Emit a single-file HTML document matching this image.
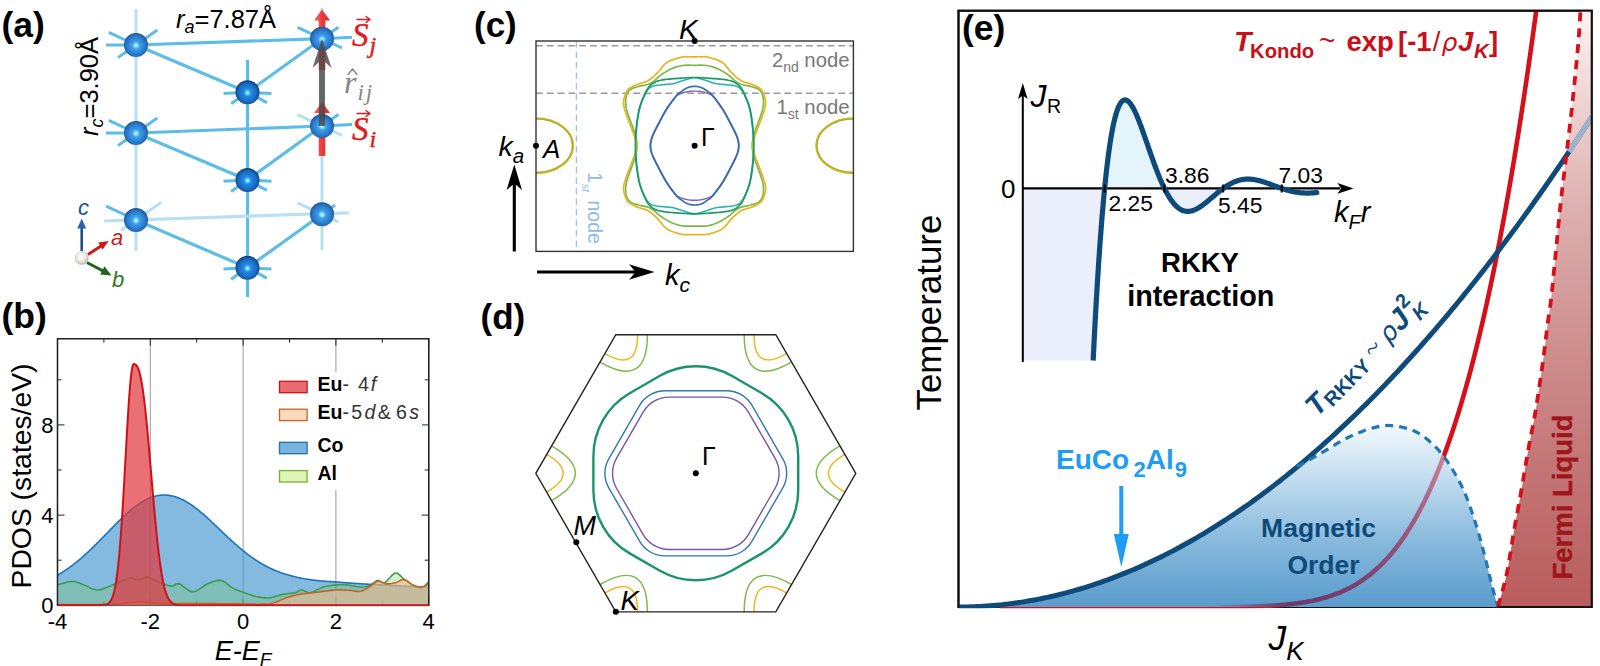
<!DOCTYPE html>
<html><head><meta charset="utf-8"><title>Figure</title>
<style>
html,body{margin:0;padding:0;background:#fff;}
svg{display:block;font-family:"Liberation Sans","DejaVu Sans",sans-serif;}

</style></head><body>
<svg width="1600" height="666" viewBox="0 0 1600 666">
<rect width="1600" height="666" fill="#fff"/>
<defs>
<radialGradient id="atom" cx="50%" cy="52%" r="50%">
 <stop offset="0" stop-color="#d8ffff"/>
 <stop offset="0.12" stop-color="#8fe4fb"/>
 <stop offset="0.32" stop-color="#3f9fe6"/>
 <stop offset="0.7" stop-color="#2b7fd3"/>
 <stop offset="0.92" stop-color="#2468b4"/>
 <stop offset="1" stop-color="#1d4f8c"/>
</radialGradient>
<radialGradient id="atomd" cx="50%" cy="52%" r="50%">
 <stop offset="0" stop-color="#c8fbff"/>
 <stop offset="0.12" stop-color="#6fd6fa"/>
 <stop offset="0.32" stop-color="#2088e0"/>
 <stop offset="0.7" stop-color="#1a6fc8"/>
 <stop offset="0.9" stop-color="#1558a6"/>
 <stop offset="1" stop-color="#0f3c78"/>
</radialGradient>
<radialGradient id="wsph" cx="45%" cy="40%" r="60%">
 <stop offset="0" stop-color="#ffffff"/>
 <stop offset="0.6" stop-color="#e9e7e4"/>
 <stop offset="1" stop-color="#b5b2ad"/>
</radialGradient>
<linearGradient id="redarrow" x1="0" x2="1" y1="0" y2="0">
 <stop offset="0" stop-color="#f26a6a"/>
 <stop offset="0.5" stop-color="#ee3b3b"/>
 <stop offset="1" stop-color="#d92626"/>
</linearGradient>
<linearGradient id="magfill" x1="0" x2="0" y1="426" y2="607" gradientUnits="userSpaceOnUse">
 <stop offset="0" stop-color="#f2f8fc"/>
 <stop offset="0.3" stop-color="#c0dbee"/>
 <stop offset="0.65" stop-color="#86b8dc"/>
 <stop offset="1" stop-color="#5a9ccc"/>
</linearGradient>
<linearGradient id="konin" x1="0" x2="0" y1="607" y2="440" gradientUnits="userSpaceOnUse">
 <stop offset="0" stop-color="#6c3a6c"/>
 <stop offset="0.25" stop-color="#874874"/>
 <stop offset="0.6" stop-color="#a86486"/>
 <stop offset="1" stop-color="#d48a9c"/>
</linearGradient>
<linearGradient id="fadeg" x1="1215" x2="1285" y1="0" y2="0" gradientUnits="userSpaceOnUse">
 <stop offset="0" stop-color="#000"/><stop offset="1" stop-color="#fff"/>
</linearGradient>
<linearGradient id="flfill" x1="0" x2="0" y1="10" y2="607" gradientUnits="userSpaceOnUse">
 <stop offset="0" stop-color="#fcf3f3"/>
 <stop offset="0.16" stop-color="#eed2d2"/>
 <stop offset="0.33" stop-color="#deb0b0"/>
 <stop offset="0.5" stop-color="#d29797"/>
 <stop offset="0.75" stop-color="#c47777"/>
 <stop offset="1" stop-color="#b95c5c"/>
</linearGradient>
</defs>
<g id="panel-a"><line x1="136" y1="9" x2="136" y2="251" stroke="#b9e0f2" stroke-width="3"/>
<line x1="322" y1="8" x2="322" y2="250" stroke="#b9e0f2" stroke-width="3"/>
<line x1="247.5" y1="60" x2="247.5" y2="297" stroke="#5dbde6" stroke-width="3.2"/>
<line x1="136" y1="45" x2="322" y2="38.7" stroke="#5dbde6" stroke-width="3.2"/>
<line x1="136" y1="133" x2="322" y2="126" stroke="#5dbde6" stroke-width="3.2"/>
<line x1="104" y1="221" x2="342" y2="213" stroke="#b9e0f2" stroke-width="3.2"/>
<line x1="136" y1="45" x2="247.5" y2="92.3" stroke="#5dbde6" stroke-width="3.2"/>
<line x1="247.5" y1="92.3" x2="322" y2="38.7" stroke="#5dbde6" stroke-width="3.2"/>
<line x1="136" y1="133" x2="247.5" y2="180" stroke="#5dbde6" stroke-width="3.2"/>
<line x1="247.5" y1="180" x2="322" y2="126" stroke="#5dbde6" stroke-width="3.2"/>
<line x1="136" y1="220" x2="247.5" y2="267.8" stroke="#5dbde6" stroke-width="3.2"/>
<line x1="247.5" y1="267.8" x2="322" y2="214.2" stroke="#5dbde6" stroke-width="3.2"/>
<line x1="136" y1="45" x2="106" y2="45" stroke="#5dbde6" stroke-width="3"/>
<line x1="136" y1="45" x2="108.81" y2="32.32" stroke="#5dbde6" stroke-width="3"/>
<line x1="136" y1="45" x2="157.3" y2="30.09" stroke="#5dbde6" stroke-width="3"/>
<line x1="136" y1="45" x2="117.98" y2="57.62" stroke="#5dbde6" stroke-width="3"/>
<line x1="136" y1="133" x2="106" y2="133" stroke="#5dbde6" stroke-width="3"/>
<line x1="136" y1="133" x2="108.81" y2="120.32" stroke="#5dbde6" stroke-width="3"/>
<line x1="136" y1="133" x2="157.3" y2="118.09" stroke="#5dbde6" stroke-width="3"/>
<line x1="136" y1="133" x2="117.98" y2="145.62" stroke="#5dbde6" stroke-width="3"/>
<line x1="136" y1="220" x2="106.09" y2="206.05" stroke="#5dbde6" stroke-width="3"/>
<line x1="136" y1="220" x2="161.39" y2="202.22" stroke="#b9e0f2" stroke-width="3"/>
<line x1="136" y1="220" x2="121.26" y2="230.32" stroke="#b9e0f2" stroke-width="3"/>
<line x1="247.5" y1="92.3" x2="223.53" y2="93.56" stroke="#5dbde6" stroke-width="3"/>
<line x1="247.5" y1="92.3" x2="271.47" y2="93.56" stroke="#5dbde6" stroke-width="3"/>
<line x1="247.5" y1="92.3" x2="231.12" y2="103.77" stroke="#5dbde6" stroke-width="3"/>
<line x1="247.5" y1="92.3" x2="266.92" y2="102.63" stroke="#5dbde6" stroke-width="3"/>
<line x1="247.5" y1="180" x2="223.53" y2="181.26" stroke="#5dbde6" stroke-width="3"/>
<line x1="247.5" y1="180" x2="271.47" y2="181.26" stroke="#5dbde6" stroke-width="3"/>
<line x1="247.5" y1="180" x2="231.12" y2="191.47" stroke="#5dbde6" stroke-width="3"/>
<line x1="247.5" y1="180" x2="266.92" y2="190.33" stroke="#5dbde6" stroke-width="3"/>
<line x1="247.5" y1="267.8" x2="223.53" y2="269.06" stroke="#5dbde6" stroke-width="3"/>
<line x1="247.5" y1="267.8" x2="271.47" y2="269.06" stroke="#5dbde6" stroke-width="3"/>
<line x1="247.5" y1="267.8" x2="231.12" y2="279.27" stroke="#5dbde6" stroke-width="3"/>
<line x1="247.5" y1="267.8" x2="266.92" y2="278.13" stroke="#5dbde6" stroke-width="3"/>
<line x1="322" y1="38.7" x2="351.96" y2="37.13" stroke="#5dbde6" stroke-width="3"/>
<line x1="322" y1="38.7" x2="297.53" y2="27.29" stroke="#5dbde6" stroke-width="3"/>
<line x1="322" y1="38.7" x2="341.94" y2="48" stroke="#5dbde6" stroke-width="3"/>
<line x1="322" y1="38.7" x2="338.38" y2="27.23" stroke="#5dbde6" stroke-width="3"/>
<line x1="322" y1="126" x2="351.96" y2="124.43" stroke="#5dbde6" stroke-width="3"/>
<line x1="322" y1="126" x2="297.53" y2="114.59" stroke="#b9e0f2" stroke-width="3"/>
<line x1="322" y1="126" x2="341.94" y2="135.3" stroke="#b9e0f2" stroke-width="3"/>
<line x1="322" y1="126" x2="338.38" y2="114.53" stroke="#5dbde6" stroke-width="3"/>
<line x1="322" y1="214.2" x2="348.96" y2="212.79" stroke="#b9e0f2" stroke-width="3"/>
<line x1="322" y1="214.2" x2="297.53" y2="202.79" stroke="#b9e0f2" stroke-width="3"/>
<line x1="322" y1="214.2" x2="338.31" y2="221.81" stroke="#b9e0f2" stroke-width="3"/>
<line x1="322" y1="214.2" x2="335.11" y2="205.02" stroke="#5dbde6" stroke-width="3"/>
<path d="M318.7,156 L318.7,113 L314,113 L322,102 L330,113 L325.3,113 L325.3,156Z" fill="url(#redarrow)"/>
<path d="M318.7,70 L318.7,20.5 L314,20.5 L322,9.5 L330,20.5 L325.3,20.5 L325.3,70Z" fill="url(#redarrow)"/>
<circle cx="136" cy="45" r="12" fill="url(#atom)"/>
<circle cx="136" cy="133" r="12" fill="url(#atom)"/>
<circle cx="136" cy="220" r="12" fill="url(#atom)"/>
<circle cx="247.5" cy="92.3" r="12" fill="url(#atomd)"/>
<circle cx="247.5" cy="180" r="12" fill="url(#atomd)"/>
<circle cx="247.5" cy="267.8" r="12" fill="url(#atomd)"/>
<circle cx="322" cy="38.7" r="12" fill="url(#atom)"/>
<circle cx="322" cy="126" r="12" fill="url(#atom)"/>
<circle cx="322" cy="214.2" r="12" fill="url(#atom)"/>
<path d="M319,126 L319,62 L312.5,68 L322,38.5 L331.5,68 L325,62 L325,126Z" fill="#4a4a4a" fill-opacity="0.82"/>
<line x1="81.7" y1="251" x2="81.7" y2="228" stroke="#1f4e8c" stroke-width="2.6"/>
<path d="M77.2,228.5 L81.7,218.5 L86.2,228.5Z" fill="#2b62a8"/>
<line x1="88" y1="254.5" x2="101" y2="246" stroke="#d41616" stroke-width="2.8"/>
<path d="M98.2,242.6 L108.6,241 L102.6,249.6Z" fill="#d41616"/>
<line x1="87" y1="262.5" x2="103" y2="271" stroke="#22631c" stroke-width="3"/>
<path d="M104.5,266.3 L111.5,275.4 L100.2,274.6Z" fill="#22631c"/>
<circle cx="81.7" cy="258" r="6.6" fill="url(#wsph)" stroke="#c9c6c0" stroke-width="0.6"/>
<text x="1.5" y="37.3" font-size="35.5" font-weight="bold">(a)</text>
<text x="176" y="28" font-size="25.5"><tspan font-style="italic">r</tspan><tspan font-style="italic" font-size="18" dy="5">a</tspan><tspan dy="-5">=7.87Å</tspan></text>
<text transform="translate(97.5,136) rotate(-90)" font-size="25.5"><tspan font-style="italic">r</tspan><tspan font-style="italic" font-size="18" dy="5">c</tspan><tspan dy="-5">=3.90Å</tspan></text>
<text x="78" y="214.5" font-size="22" font-style="italic" fill="#1f4e8c">c</text>
<text x="111" y="245" font-size="22" font-style="italic" fill="#d41616">a</text>
<text x="112" y="287" font-size="22" font-style="italic" fill="#2f7a1f">b</text>
<text x="352" y="46" font-family="'Liberation Serif','DejaVu Serif',serif" font-style="italic" font-size="33" fill="#e01b1b" stroke="#e01b1b" stroke-width="0.5">S<tspan font-size="24" dy="7" dx="1">j</tspan></text><path d="M357,19.5 h13 m-4,-3 l4,3 l-4,3" fill="none" stroke="#e01b1b" stroke-width="1.4" stroke-linecap="round" stroke-linejoin="round"/>
<text x="352" y="140" font-family="'Liberation Serif','DejaVu Serif',serif" font-style="italic" font-size="33" fill="#e01b1b" stroke="#e01b1b" stroke-width="0.5">S<tspan font-size="24" dy="7" dx="1">i</tspan></text><path d="M357,113.5 h13 m-4,-3 l4,3 l-4,3" fill="none" stroke="#e01b1b" stroke-width="1.4" stroke-linecap="round" stroke-linejoin="round"/>
<text x="344" y="93" font-family="'Liberation Serif','DejaVu Serif',serif" font-style="italic" font-size="32" fill="#858585">r<tspan font-size="23" dy="7" dx="1" letter-spacing="2">ij</tspan></text>
<path d="M348,74.5 l4.5,-5.5 l4.5,5.5" fill="none" stroke="#858585" stroke-width="1.4" stroke-linecap="round" stroke-linejoin="round"/></g>
<g id="panel-b"><line x1="150.3" y1="338.7" x2="150.3" y2="605.3" stroke="#9a9a9a" stroke-width="1"/>
<line x1="243.1" y1="338.7" x2="243.1" y2="605.3" stroke="#9a9a9a" stroke-width="1"/>
<line x1="335.9" y1="338.7" x2="335.9" y2="605.3" stroke="#9a9a9a" stroke-width="1"/>
<rect x="57.5" y="338.7" width="371.2" height="266.59999999999997" fill="none" stroke="#222" stroke-width="1.3"/>
<path d="M57.5,605.3 h7 M428.7,605.3 h-7 M57.5,560.2 h4 M428.7,560.2 h-4 M57.5,515.1 h7 M428.7,515.1 h-7 M57.5,470 h4 M428.7,470 h-4 M57.5,424.9 h7 M428.7,424.9 h-7 M57.5,379.8 h4 M428.7,379.8 h-4 M57.5,605.3 v-7 M57.5,338.7 v7 M103.9,605.3 v-4 M103.9,338.7 v4 M150.3,605.3 v-7 M150.3,338.7 v7 M196.7,605.3 v-4 M196.7,338.7 v4 M243.1,605.3 v-7 M243.1,338.7 v7 M289.5,605.3 v-4 M289.5,338.7 v4 M335.9,605.3 v-7 M335.9,338.7 v7 M382.3,605.3 v-4 M382.3,338.7 v4 M428.7,605.3 v-7 M428.7,338.7 v7" stroke="#222" stroke-width="1" fill="none"/>
<clipPath id="bclip"><rect x="57.5" y="338.7" width="371.2" height="267.79999999999995"/></clipPath>
<g clip-path="url(#bclip)">
<path d="M57.5,575.26 L58.43,574.72 L59.36,574.17 L60.28,573.61 L61.21,573.04 L62.14,572.46 L63.07,571.86 L64,571.26 L64.92,570.64 L65.85,570.02 L66.78,569.38 L67.71,568.73 L68.64,568.07 L69.56,567.4 L70.49,566.72 L71.42,566.03 L72.35,565.33 L73.28,564.61 L74.2,563.89 L75.13,563.16 L76.06,562.41 L76.99,561.66 L77.92,560.9 L78.84,560.12 L79.77,559.34 L80.7,558.55 L81.63,557.74 L82.56,556.93 L83.48,556.11 L84.41,555.28 L85.34,554.44 L86.27,553.6 L87.2,552.74 L88.12,551.88 L89.05,551.01 L89.98,550.13 L90.91,549.25 L91.84,548.36 L92.76,547.46 L93.69,546.56 L94.62,545.65 L95.55,544.74 L96.48,543.82 L97.4,542.89 L98.33,541.97 L99.26,541.03 L100.19,540.1 L101.12,539.16 L102.04,538.22 L102.97,537.28 L103.9,536.33 L104.83,535.37 L105.76,534.41 L106.68,533.45 L107.61,532.5 L108.54,531.54 L109.47,530.58 L110.4,529.62 L111.32,528.67 L112.25,527.72 L113.18,526.77 L114.11,525.83 L115.04,524.89 L115.96,523.95 L116.89,523.02 L117.82,522.1 L118.75,521.18 L119.68,520.27 L120.6,519.37 L121.53,518.48 L122.46,517.59 L123.39,516.72 L124.32,515.85 L125.24,515 L126.17,514.15 L127.1,513.32 L128.03,512.5 L128.96,511.69 L129.88,510.89 L130.81,510.11 L131.74,509.34 L132.67,508.59 L133.6,507.85 L134.52,507.13 L135.45,506.42 L136.38,505.73 L137.31,505.06 L138.24,504.41 L139.16,503.77 L140.09,503.15 L141.02,502.55 L141.95,501.97 L142.88,501.41 L143.8,500.87 L144.73,500.35 L145.66,499.85 L146.59,499.37 L147.52,498.91 L148.44,498.48 L149.37,498.07 L150.3,497.67 L151.23,497.33 L152.16,497.02 L153.08,496.72 L154.01,496.45 L154.94,496.2 L155.87,495.97 L156.8,495.77 L157.72,495.6 L158.65,495.44 L159.58,495.31 L160.51,495.21 L161.44,495.13 L162.36,495.07 L163.29,495.04 L164.22,495.04 L165.15,495.05 L166.08,495.09 L167,495.16 L167.93,495.25 L168.86,495.36 L169.79,495.5 L170.72,495.66 L171.64,495.85 L172.57,496.06 L173.5,496.29 L174.43,496.54 L175.36,496.82 L176.28,497.12 L177.21,497.45 L178.14,497.79 L179.07,498.16 L180,498.55 L180.92,498.96 L181.85,499.39 L182.78,499.84 L183.71,500.31 L184.64,500.8 L185.56,501.31 L186.49,501.83 L187.42,502.38 L188.35,502.95 L189.28,503.53 L190.2,504.13 L191.13,504.74 L192.06,505.38 L192.99,506.02 L193.92,506.69 L194.84,507.36 L195.77,508.06 L196.7,508.76 L197.63,509.5 L198.56,510.25 L199.48,511.01 L200.41,511.78 L201.34,512.56 L202.27,513.36 L203.2,514.16 L204.12,514.97 L205.05,515.8 L205.98,516.62 L206.91,517.46 L207.84,518.31 L208.76,519.16 L209.69,520.01 L210.62,520.88 L211.55,521.74 L212.48,522.62 L213.4,523.49 L214.33,524.37 L215.26,525.25 L216.19,526.14 L217.12,527.02 L218.04,527.91 L218.97,528.8 L219.9,529.68 L220.83,530.57 L221.76,531.46 L222.68,532.34 L223.61,533.23 L224.54,534.11 L225.47,534.99 L226.4,535.87 L227.32,536.74 L228.25,537.61 L229.18,538.47 L230.11,539.33 L231.04,540.19 L231.96,541.04 L232.89,541.88 L233.82,542.72 L234.75,543.55 L235.68,544.38 L236.6,545.2 L237.53,546.01 L238.46,546.81 L239.39,547.61 L240.32,548.4 L241.24,549.18 L242.17,549.95 L243.1,550.71 L244.03,551.45 L244.96,552.19 L245.88,552.91 L246.81,553.63 L247.74,554.33 L248.67,555.03 L249.6,555.72 L250.52,556.39 L251.45,557.06 L252.38,557.71 L253.31,558.36 L254.24,558.99 L255.16,559.62 L256.09,560.23 L257.02,560.83 L257.95,561.42 L258.88,562 L259.8,562.57 L260.73,563.13 L261.66,563.68 L262.59,564.22 L263.52,564.74 L264.44,565.26 L265.37,565.76 L266.3,566.26 L267.23,566.74 L268.16,567.21 L269.08,567.68 L270.01,568.13 L270.94,568.57 L271.87,569 L272.8,569.42 L273.72,569.83 L274.65,570.23 L275.58,570.62 L276.51,571 L277.44,571.37 L278.36,571.73 L279.29,572.08 L280.22,572.42 L281.15,572.75 L282.08,573.07 L283,573.39 L283.93,573.69 L284.86,573.99 L285.79,574.27 L286.72,574.55 L287.64,574.82 L288.57,575.08 L289.5,575.34 L290.43,575.6 L291.36,575.86 L292.28,576.12 L293.21,576.36 L294.14,576.6 L295.07,576.83 L296,577.05 L296.92,577.27 L297.85,577.48 L298.78,577.68 L299.71,577.88 L300.64,578.07 L301.56,578.25 L302.49,578.43 L303.42,578.6 L304.35,578.77 L305.28,578.93 L306.2,579.08 L307.13,579.23 L308.06,579.38 L308.99,579.52 L309.92,579.65 L310.84,579.78 L311.77,579.91 L312.7,580.03 L313.63,580.14 L314.56,580.25 L315.48,580.36 L316.41,580.46 L317.34,580.56 L318.27,580.66 L319.2,580.75 L320.12,580.84 L321.05,580.93 L321.98,581.01 L322.91,581.09 L323.84,581.16 L324.76,581.24 L325.69,581.3 L326.62,581.37 L327.55,581.44 L328.48,581.5 L329.4,581.56 L330.33,581.61 L331.26,581.67 L332.19,581.72 L333.12,581.77 L334.04,581.81 L334.97,581.86 L335.9,581.9 L336.83,581.99 L337.76,582.07 L338.68,582.16 L339.61,582.24 L340.54,582.32 L341.47,582.4 L342.4,582.47 L343.32,582.55 L344.25,582.62 L345.18,582.7 L346.11,582.77 L347.04,582.84 L347.96,582.91 L348.89,582.97 L349.82,583.04 L350.75,583.1 L351.68,583.17 L352.6,583.23 L353.53,583.3 L354.46,583.36 L355.39,583.42 L356.32,583.48 L357.24,583.54 L358.17,583.6 L359.1,583.66 L360.03,583.71 L360.96,583.77 L361.88,583.83 L362.81,583.88 L363.74,583.94 L364.67,583.99 L365.6,584.04 L366.52,584.1 L367.45,584.15 L368.38,584.2 L369.31,584.26 L370.24,584.31 L371.16,584.36 L372.09,584.41 L373.02,584.46 L373.95,584.51 L374.88,584.56 L375.8,584.61 L376.73,584.66 L377.66,584.71 L378.59,584.76 L379.52,584.81 L380.44,584.86 L381.37,584.91 L382.3,584.96 L383.23,585 L384.16,585.05 L385.08,585.1 L386.01,585.15 L386.94,585.19 L387.87,585.24 L388.8,585.29 L389.72,585.34 L390.65,585.38 L391.58,585.43 L392.51,585.48 L393.44,585.52 L394.36,585.57 L395.29,585.62 L396.22,585.66 L397.15,585.71 L398.08,585.76 L399,585.8 L399.93,585.85 L400.86,585.89 L401.79,585.94 L402.72,585.99 L403.64,586.03 L404.57,586.08 L405.5,586.12 L406.43,586.17 L407.36,586.21 L408.28,586.26 L409.21,586.31 L410.14,586.35 L411.07,586.4 L412,586.44 L412.92,586.49 L413.85,586.53 L414.78,586.58 L415.71,586.62 L416.64,586.67 L417.56,586.72 L418.49,586.76 L419.42,586.81 L420.35,586.85 L421.28,586.9 L422.2,586.94 L423.13,586.99 L424.06,587.03 L424.99,587.08 L425.92,587.12 L426.84,587.17 L427.77,587.21 L428.7,587.26 L428.7,605.3 L57.5,605.3Z" fill="#4a9ad0" fill-opacity="0.68"/><path d="M57.5,575.26 L58.43,574.72 L59.36,574.17 L60.28,573.61 L61.21,573.04 L62.14,572.46 L63.07,571.86 L64,571.26 L64.92,570.64 L65.85,570.02 L66.78,569.38 L67.71,568.73 L68.64,568.07 L69.56,567.4 L70.49,566.72 L71.42,566.03 L72.35,565.33 L73.28,564.61 L74.2,563.89 L75.13,563.16 L76.06,562.41 L76.99,561.66 L77.92,560.9 L78.84,560.12 L79.77,559.34 L80.7,558.55 L81.63,557.74 L82.56,556.93 L83.48,556.11 L84.41,555.28 L85.34,554.44 L86.27,553.6 L87.2,552.74 L88.12,551.88 L89.05,551.01 L89.98,550.13 L90.91,549.25 L91.84,548.36 L92.76,547.46 L93.69,546.56 L94.62,545.65 L95.55,544.74 L96.48,543.82 L97.4,542.89 L98.33,541.97 L99.26,541.03 L100.19,540.1 L101.12,539.16 L102.04,538.22 L102.97,537.28 L103.9,536.33 L104.83,535.37 L105.76,534.41 L106.68,533.45 L107.61,532.5 L108.54,531.54 L109.47,530.58 L110.4,529.62 L111.32,528.67 L112.25,527.72 L113.18,526.77 L114.11,525.83 L115.04,524.89 L115.96,523.95 L116.89,523.02 L117.82,522.1 L118.75,521.18 L119.68,520.27 L120.6,519.37 L121.53,518.48 L122.46,517.59 L123.39,516.72 L124.32,515.85 L125.24,515 L126.17,514.15 L127.1,513.32 L128.03,512.5 L128.96,511.69 L129.88,510.89 L130.81,510.11 L131.74,509.34 L132.67,508.59 L133.6,507.85 L134.52,507.13 L135.45,506.42 L136.38,505.73 L137.31,505.06 L138.24,504.41 L139.16,503.77 L140.09,503.15 L141.02,502.55 L141.95,501.97 L142.88,501.41 L143.8,500.87 L144.73,500.35 L145.66,499.85 L146.59,499.37 L147.52,498.91 L148.44,498.48 L149.37,498.07 L150.3,497.67 L151.23,497.33 L152.16,497.02 L153.08,496.72 L154.01,496.45 L154.94,496.2 L155.87,495.97 L156.8,495.77 L157.72,495.6 L158.65,495.44 L159.58,495.31 L160.51,495.21 L161.44,495.13 L162.36,495.07 L163.29,495.04 L164.22,495.04 L165.15,495.05 L166.08,495.09 L167,495.16 L167.93,495.25 L168.86,495.36 L169.79,495.5 L170.72,495.66 L171.64,495.85 L172.57,496.06 L173.5,496.29 L174.43,496.54 L175.36,496.82 L176.28,497.12 L177.21,497.45 L178.14,497.79 L179.07,498.16 L180,498.55 L180.92,498.96 L181.85,499.39 L182.78,499.84 L183.71,500.31 L184.64,500.8 L185.56,501.31 L186.49,501.83 L187.42,502.38 L188.35,502.95 L189.28,503.53 L190.2,504.13 L191.13,504.74 L192.06,505.38 L192.99,506.02 L193.92,506.69 L194.84,507.36 L195.77,508.06 L196.7,508.76 L197.63,509.5 L198.56,510.25 L199.48,511.01 L200.41,511.78 L201.34,512.56 L202.27,513.36 L203.2,514.16 L204.12,514.97 L205.05,515.8 L205.98,516.62 L206.91,517.46 L207.84,518.31 L208.76,519.16 L209.69,520.01 L210.62,520.88 L211.55,521.74 L212.48,522.62 L213.4,523.49 L214.33,524.37 L215.26,525.25 L216.19,526.14 L217.12,527.02 L218.04,527.91 L218.97,528.8 L219.9,529.68 L220.83,530.57 L221.76,531.46 L222.68,532.34 L223.61,533.23 L224.54,534.11 L225.47,534.99 L226.4,535.87 L227.32,536.74 L228.25,537.61 L229.18,538.47 L230.11,539.33 L231.04,540.19 L231.96,541.04 L232.89,541.88 L233.82,542.72 L234.75,543.55 L235.68,544.38 L236.6,545.2 L237.53,546.01 L238.46,546.81 L239.39,547.61 L240.32,548.4 L241.24,549.18 L242.17,549.95 L243.1,550.71 L244.03,551.45 L244.96,552.19 L245.88,552.91 L246.81,553.63 L247.74,554.33 L248.67,555.03 L249.6,555.72 L250.52,556.39 L251.45,557.06 L252.38,557.71 L253.31,558.36 L254.24,558.99 L255.16,559.62 L256.09,560.23 L257.02,560.83 L257.95,561.42 L258.88,562 L259.8,562.57 L260.73,563.13 L261.66,563.68 L262.59,564.22 L263.52,564.74 L264.44,565.26 L265.37,565.76 L266.3,566.26 L267.23,566.74 L268.16,567.21 L269.08,567.68 L270.01,568.13 L270.94,568.57 L271.87,569 L272.8,569.42 L273.72,569.83 L274.65,570.23 L275.58,570.62 L276.51,571 L277.44,571.37 L278.36,571.73 L279.29,572.08 L280.22,572.42 L281.15,572.75 L282.08,573.07 L283,573.39 L283.93,573.69 L284.86,573.99 L285.79,574.27 L286.72,574.55 L287.64,574.82 L288.57,575.08 L289.5,575.34 L290.43,575.6 L291.36,575.86 L292.28,576.12 L293.21,576.36 L294.14,576.6 L295.07,576.83 L296,577.05 L296.92,577.27 L297.85,577.48 L298.78,577.68 L299.71,577.88 L300.64,578.07 L301.56,578.25 L302.49,578.43 L303.42,578.6 L304.35,578.77 L305.28,578.93 L306.2,579.08 L307.13,579.23 L308.06,579.38 L308.99,579.52 L309.92,579.65 L310.84,579.78 L311.77,579.91 L312.7,580.03 L313.63,580.14 L314.56,580.25 L315.48,580.36 L316.41,580.46 L317.34,580.56 L318.27,580.66 L319.2,580.75 L320.12,580.84 L321.05,580.93 L321.98,581.01 L322.91,581.09 L323.84,581.16 L324.76,581.24 L325.69,581.3 L326.62,581.37 L327.55,581.44 L328.48,581.5 L329.4,581.56 L330.33,581.61 L331.26,581.67 L332.19,581.72 L333.12,581.77 L334.04,581.81 L334.97,581.86 L335.9,581.9 L336.83,581.99 L337.76,582.07 L338.68,582.16 L339.61,582.24 L340.54,582.32 L341.47,582.4 L342.4,582.47 L343.32,582.55 L344.25,582.62 L345.18,582.7 L346.11,582.77 L347.04,582.84 L347.96,582.91 L348.89,582.97 L349.82,583.04 L350.75,583.1 L351.68,583.17 L352.6,583.23 L353.53,583.3 L354.46,583.36 L355.39,583.42 L356.32,583.48 L357.24,583.54 L358.17,583.6 L359.1,583.66 L360.03,583.71 L360.96,583.77 L361.88,583.83 L362.81,583.88 L363.74,583.94 L364.67,583.99 L365.6,584.04 L366.52,584.1 L367.45,584.15 L368.38,584.2 L369.31,584.26 L370.24,584.31 L371.16,584.36 L372.09,584.41 L373.02,584.46 L373.95,584.51 L374.88,584.56 L375.8,584.61 L376.73,584.66 L377.66,584.71 L378.59,584.76 L379.52,584.81 L380.44,584.86 L381.37,584.91 L382.3,584.96 L383.23,585 L384.16,585.05 L385.08,585.1 L386.01,585.15 L386.94,585.19 L387.87,585.24 L388.8,585.29 L389.72,585.34 L390.65,585.38 L391.58,585.43 L392.51,585.48 L393.44,585.52 L394.36,585.57 L395.29,585.62 L396.22,585.66 L397.15,585.71 L398.08,585.76 L399,585.8 L399.93,585.85 L400.86,585.89 L401.79,585.94 L402.72,585.99 L403.64,586.03 L404.57,586.08 L405.5,586.12 L406.43,586.17 L407.36,586.21 L408.28,586.26 L409.21,586.31 L410.14,586.35 L411.07,586.4 L412,586.44 L412.92,586.49 L413.85,586.53 L414.78,586.58 L415.71,586.62 L416.64,586.67 L417.56,586.72 L418.49,586.76 L419.42,586.81 L420.35,586.85 L421.28,586.9 L422.2,586.94 L423.13,586.99 L424.06,587.03 L424.99,587.08 L425.92,587.12 L426.84,587.17 L427.77,587.21 L428.7,587.26" fill="none" stroke="#1e74b8" stroke-width="1.6" stroke-linejoin="round"/>
<path d="M57.5,584.78 L58.71,584.47 L60.35,584.01 L62.3,583.45 L64.46,582.86 L66.7,582.3 L68.92,581.83 L70.99,581.51 L72.81,581.4 L74.39,581.5 L75.85,581.78 L77.21,582.18 L78.53,582.68 L79.82,583.25 L81.13,583.84 L82.5,584.44 L83.95,585 L85.48,585.62 L87.07,586.36 L88.68,587.15 L90.33,587.95 L91.99,588.69 L93.65,589.31 L95.3,589.76 L96.94,589.97 L98.52,589.94 L100.04,589.72 L101.53,589.35 L103.03,588.85 L104.58,588.25 L106.23,587.58 L108,586.87 L109.93,586.13 L112.13,585.27 L114.6,584.22 L117.23,583.04 L119.94,581.83 L122.61,580.67 L125.15,579.63 L127.45,578.79 L129.42,578.24 L131.03,578.03 L132.37,578.11 L133.51,578.4 L134.49,578.82 L135.4,579.27 L136.28,579.68 L137.21,579.97 L138.24,580.04 L139.32,579.87 L140.39,579.52 L141.44,579.04 L142.5,578.52 L143.58,578.02 L144.68,577.61 L145.84,577.36 L147.05,577.34 L148.32,577.56 L149.63,577.96 L150.98,578.51 L152.36,579.16 L153.77,579.86 L155.22,580.57 L156.69,581.25 L158.19,581.85 L159.76,582.44 L161.43,583.09 L163.15,583.76 L164.89,584.41 L166.6,585.01 L168.25,585.53 L169.79,585.91 L171.18,586.13 L172.37,586.09 L173.37,585.79 L174.25,585.32 L175.07,584.78 L175.89,584.27 L176.79,583.88 L177.83,583.72 L179.07,583.88 L180.51,584.49 L182.09,585.52 L183.79,586.81 L185.56,588.2 L187.4,589.55 L189.27,590.7 L191.14,591.49 L192.99,591.77 L194.85,591.47 L196.77,590.7 L198.73,589.59 L200.7,588.27 L202.67,586.87 L204.6,585.51 L206.49,584.32 L208.3,583.43 L210.05,582.73 L211.75,582.07 L213.42,581.47 L215.06,580.97 L216.66,580.6 L218.23,580.37 L219.77,580.33 L221.29,580.5 L222.78,580.95 L224.22,581.7 L225.62,582.66 L227,583.76 L228.37,584.92 L229.72,586.05 L231.07,587.09 L232.43,587.94 L233.77,588.62 L235.07,589.23 L236.36,589.77 L237.65,590.28 L238.95,590.75 L240.28,591.22 L241.66,591.71 L243.1,592.22 L244.61,592.78 L246.18,593.36 L247.8,593.96 L249.45,594.55 L251.12,595.11 L252.79,595.64 L254.45,596.11 L256.09,596.51 L257.72,596.85 L259.34,597.16 L260.96,597.44 L262.59,597.66 L264.21,597.83 L265.84,597.92 L267.46,597.94 L269.08,597.86 L270.71,597.65 L272.33,597.31 L273.96,596.87 L275.58,596.36 L277.2,595.84 L278.83,595.32 L280.45,594.86 L282.08,594.48 L283.74,594.18 L285.48,593.94 L287.23,593.72 L288.98,593.53 L290.67,593.35 L292.28,593.15 L293.75,592.93 L295.07,592.67 L296.17,592.34 L297.09,591.93 L297.88,591.49 L298.58,591.04 L299.24,590.62 L299.93,590.28 L300.69,590.05 L301.56,589.97 L302.53,590.1 L303.51,590.46 L304.52,590.95 L305.57,591.5 L306.67,592.03 L307.83,592.46 L309.06,592.7 L310.38,592.67 L311.81,592.34 L313.35,591.76 L314.97,591.01 L316.64,590.15 L318.35,589.25 L320.06,588.39 L321.74,587.62 L323.37,587.03 L324.97,586.59 L326.56,586.23 L328.14,585.92 L329.72,585.67 L331.29,585.46 L332.84,585.29 L334.38,585.14 L335.9,585 L337.38,584.89 L338.83,584.81 L340.26,584.77 L341.67,584.75 L343.09,584.77 L344.52,584.81 L345.99,584.89 L347.5,585 L349.09,585.18 L350.75,585.45 L352.45,585.77 L354.17,586.1 L355.86,586.43 L357.5,586.72 L359.06,586.93 L360.49,587.03 L361.8,587.05 L363,587.02 L364.12,586.94 L365.19,586.81 L366.22,586.62 L367.23,586.37 L368.26,586.06 L369.31,585.68 L370.38,585.17 L371.46,584.48 L372.54,583.69 L373.6,582.86 L374.65,582.06 L375.68,581.36 L376.69,580.81 L377.66,580.5 L378.57,580.5 L379.41,580.82 L380.21,581.32 L381,581.9 L381.8,582.45 L382.65,582.85 L383.58,582.99 L384.62,582.75 L385.79,582 L387.07,580.8 L388.43,579.3 L389.84,577.66 L391.26,576.06 L392.67,574.65 L394.02,573.59 L395.29,573.05 L396.48,573.06 L397.63,573.47 L398.73,574.19 L399.82,575.13 L400.88,576.18 L401.95,577.27 L403.02,578.28 L404.11,579.14 L405.21,579.91 L406.32,580.69 L407.43,581.49 L408.55,582.27 L409.65,583.03 L410.75,583.75 L411.84,584.41 L412.92,585 L414,585.57 L415.07,586.16 L416.13,586.72 L417.19,587.22 L418.23,587.63 L419.26,587.91 L420.28,588.02 L421.28,587.94 L422.3,587.57 L423.37,586.91 L424.45,586.05 L425.51,585.08 L426.5,584.08 L427.39,583.15 L428.13,582.38 L428.7,581.85 L428.7,605.3 L57.5,605.3Z" fill="#78c864" fill-opacity="0.3"/><path d="M57.5,584.78 L58.71,584.47 L60.35,584.01 L62.3,583.45 L64.46,582.86 L66.7,582.3 L68.92,581.83 L70.99,581.51 L72.81,581.4 L74.39,581.5 L75.85,581.78 L77.21,582.18 L78.53,582.68 L79.82,583.25 L81.13,583.84 L82.5,584.44 L83.95,585 L85.48,585.62 L87.07,586.36 L88.68,587.15 L90.33,587.95 L91.99,588.69 L93.65,589.31 L95.3,589.76 L96.94,589.97 L98.52,589.94 L100.04,589.72 L101.53,589.35 L103.03,588.85 L104.58,588.25 L106.23,587.58 L108,586.87 L109.93,586.13 L112.13,585.27 L114.6,584.22 L117.23,583.04 L119.94,581.83 L122.61,580.67 L125.15,579.63 L127.45,578.79 L129.42,578.24 L131.03,578.03 L132.37,578.11 L133.51,578.4 L134.49,578.82 L135.4,579.27 L136.28,579.68 L137.21,579.97 L138.24,580.04 L139.32,579.87 L140.39,579.52 L141.44,579.04 L142.5,578.52 L143.58,578.02 L144.68,577.61 L145.84,577.36 L147.05,577.34 L148.32,577.56 L149.63,577.96 L150.98,578.51 L152.36,579.16 L153.77,579.86 L155.22,580.57 L156.69,581.25 L158.19,581.85 L159.76,582.44 L161.43,583.09 L163.15,583.76 L164.89,584.41 L166.6,585.01 L168.25,585.53 L169.79,585.91 L171.18,586.13 L172.37,586.09 L173.37,585.79 L174.25,585.32 L175.07,584.78 L175.89,584.27 L176.79,583.88 L177.83,583.72 L179.07,583.88 L180.51,584.49 L182.09,585.52 L183.79,586.81 L185.56,588.2 L187.4,589.55 L189.27,590.7 L191.14,591.49 L192.99,591.77 L194.85,591.47 L196.77,590.7 L198.73,589.59 L200.7,588.27 L202.67,586.87 L204.6,585.51 L206.49,584.32 L208.3,583.43 L210.05,582.73 L211.75,582.07 L213.42,581.47 L215.06,580.97 L216.66,580.6 L218.23,580.37 L219.77,580.33 L221.29,580.5 L222.78,580.95 L224.22,581.7 L225.62,582.66 L227,583.76 L228.37,584.92 L229.72,586.05 L231.07,587.09 L232.43,587.94 L233.77,588.62 L235.07,589.23 L236.36,589.77 L237.65,590.28 L238.95,590.75 L240.28,591.22 L241.66,591.71 L243.1,592.22 L244.61,592.78 L246.18,593.36 L247.8,593.96 L249.45,594.55 L251.12,595.11 L252.79,595.64 L254.45,596.11 L256.09,596.51 L257.72,596.85 L259.34,597.16 L260.96,597.44 L262.59,597.66 L264.21,597.83 L265.84,597.92 L267.46,597.94 L269.08,597.86 L270.71,597.65 L272.33,597.31 L273.96,596.87 L275.58,596.36 L277.2,595.84 L278.83,595.32 L280.45,594.86 L282.08,594.48 L283.74,594.18 L285.48,593.94 L287.23,593.72 L288.98,593.53 L290.67,593.35 L292.28,593.15 L293.75,592.93 L295.07,592.67 L296.17,592.34 L297.09,591.93 L297.88,591.49 L298.58,591.04 L299.24,590.62 L299.93,590.28 L300.69,590.05 L301.56,589.97 L302.53,590.1 L303.51,590.46 L304.52,590.95 L305.57,591.5 L306.67,592.03 L307.83,592.46 L309.06,592.7 L310.38,592.67 L311.81,592.34 L313.35,591.76 L314.97,591.01 L316.64,590.15 L318.35,589.25 L320.06,588.39 L321.74,587.62 L323.37,587.03 L324.97,586.59 L326.56,586.23 L328.14,585.92 L329.72,585.67 L331.29,585.46 L332.84,585.29 L334.38,585.14 L335.9,585 L337.38,584.89 L338.83,584.81 L340.26,584.77 L341.67,584.75 L343.09,584.77 L344.52,584.81 L345.99,584.89 L347.5,585 L349.09,585.18 L350.75,585.45 L352.45,585.77 L354.17,586.1 L355.86,586.43 L357.5,586.72 L359.06,586.93 L360.49,587.03 L361.8,587.05 L363,587.02 L364.12,586.94 L365.19,586.81 L366.22,586.62 L367.23,586.37 L368.26,586.06 L369.31,585.68 L370.38,585.17 L371.46,584.48 L372.54,583.69 L373.6,582.86 L374.65,582.06 L375.68,581.36 L376.69,580.81 L377.66,580.5 L378.57,580.5 L379.41,580.82 L380.21,581.32 L381,581.9 L381.8,582.45 L382.65,582.85 L383.58,582.99 L384.62,582.75 L385.79,582 L387.07,580.8 L388.43,579.3 L389.84,577.66 L391.26,576.06 L392.67,574.65 L394.02,573.59 L395.29,573.05 L396.48,573.06 L397.63,573.47 L398.73,574.19 L399.82,575.13 L400.88,576.18 L401.95,577.27 L403.02,578.28 L404.11,579.14 L405.21,579.91 L406.32,580.69 L407.43,581.49 L408.55,582.27 L409.65,583.03 L410.75,583.75 L411.84,584.41 L412.92,585 L414,585.57 L415.07,586.16 L416.13,586.72 L417.19,587.22 L418.23,587.63 L419.26,587.91 L420.28,588.02 L421.28,587.94 L422.3,587.57 L423.37,586.91 L424.45,586.05 L425.51,585.08 L426.5,584.08 L427.39,583.15 L428.13,582.38 L428.7,581.85" fill="none" stroke="#3f9a4a" stroke-width="1.6" stroke-linejoin="round"/>
<path d="M57.5,604.62 L61.27,604.61 L66.49,604.6 L72.72,604.59 L79.54,604.57 L86.5,604.54 L93.17,604.51 L99.11,604.46 L103.9,604.4 L107.55,604.32 L110.5,604.24 L112.9,604.15 L114.92,604.05 L116.72,603.93 L118.47,603.8 L120.33,603.66 L122.46,603.5 L124.78,603.29 L127.1,603.02 L129.42,602.73 L131.74,602.42 L134.06,602.14 L136.38,601.91 L138.7,601.75 L141.02,601.69 L143.21,601.76 L145.22,601.93 L147.16,602.18 L149.14,602.48 L151.26,602.79 L153.63,603.09 L156.37,603.33 L159.58,603.5 L163.27,603.58 L167.34,603.61 L171.73,603.61 L176.4,603.58 L181.28,603.54 L186.33,603.51 L191.49,603.49 L196.7,603.5 L202.25,603.53 L208.3,603.58 L214.64,603.64 L221.06,603.71 L227.33,603.77 L233.24,603.84 L238.57,603.9 L243.1,603.95 L246.8,604 L249.86,604.05 L252.4,604.11 L254.56,604.16 L256.43,604.2 L258.16,604.22 L259.86,604.21 L261.66,604.17 L263.43,604.12 L265.02,604.08 L266.46,604.03 L267.81,603.95 L269.11,603.82 L270.43,603.64 L271.79,603.39 L273.26,603.04 L274.82,602.58 L276.41,601.99 L278.03,601.32 L279.67,600.59 L281.32,599.85 L282.97,599.12 L284.62,598.45 L286.25,597.86 L287.84,597.34 L289.39,596.86 L290.92,596.41 L292.46,595.98 L294.03,595.58 L295.67,595.2 L297.4,594.83 L299.24,594.48 L301.22,594.14 L303.29,593.83 L305.45,593.55 L307.68,593.28 L309.96,593.02 L312.26,592.76 L314.57,592.5 L316.88,592.22 L319.22,591.92 L321.65,591.59 L324.13,591.26 L326.62,590.92 L329.08,590.61 L331.47,590.34 L333.76,590.12 L335.9,589.97 L337.91,589.89 L339.81,589.88 L341.64,589.92 L343.38,589.99 L345.06,590.1 L346.69,590.21 L348.27,590.32 L349.82,590.42 L351.32,590.54 L352.76,590.73 L354.14,590.95 L355.47,591.16 L356.77,591.34 L358.03,591.45 L359.27,591.45 L360.49,591.32 L361.69,591.04 L362.84,590.64 L363.95,590.15 L365.05,589.59 L366.12,588.97 L367.18,588.32 L368.24,587.67 L369.31,587.03 L370.37,586.34 L371.42,585.53 L372.45,584.66 L373.48,583.79 L374.51,582.98 L375.55,582.27 L376.6,581.72 L377.66,581.4 L378.74,581.34 L379.83,581.53 L380.93,581.89 L382.04,582.36 L383.15,582.85 L384.26,583.32 L385.37,583.68 L386.48,583.88 L387.58,583.92 L388.68,583.9 L389.78,583.81 L390.88,583.67 L391.99,583.48 L393.09,583.26 L394.19,583.01 L395.29,582.75 L396.39,582.39 L397.5,581.9 L398.6,581.34 L399.7,580.76 L400.8,580.24 L401.9,579.83 L403.01,579.59 L404.11,579.59 L405.21,579.88 L406.32,580.42 L407.43,581.14 L408.55,581.97 L409.65,582.85 L410.75,583.69 L411.84,584.43 L412.92,585 L414,585.46 L415.07,585.87 L416.13,586.24 L417.19,586.56 L418.23,586.8 L419.26,586.97 L420.28,587.05 L421.28,587.03 L422.3,586.87 L423.37,586.54 L424.45,586.09 L425.51,585.58 L426.5,585.06 L427.39,584.57 L428.13,584.16 L428.7,583.88 L428.7,605.3 L57.5,605.3Z" fill="#f4b98a" fill-opacity="0.6"/><path d="M57.5,604.62 L61.27,604.61 L66.49,604.6 L72.72,604.59 L79.54,604.57 L86.5,604.54 L93.17,604.51 L99.11,604.46 L103.9,604.4 L107.55,604.32 L110.5,604.24 L112.9,604.15 L114.92,604.05 L116.72,603.93 L118.47,603.8 L120.33,603.66 L122.46,603.5 L124.78,603.29 L127.1,603.02 L129.42,602.73 L131.74,602.42 L134.06,602.14 L136.38,601.91 L138.7,601.75 L141.02,601.69 L143.21,601.76 L145.22,601.93 L147.16,602.18 L149.14,602.48 L151.26,602.79 L153.63,603.09 L156.37,603.33 L159.58,603.5 L163.27,603.58 L167.34,603.61 L171.73,603.61 L176.4,603.58 L181.28,603.54 L186.33,603.51 L191.49,603.49 L196.7,603.5 L202.25,603.53 L208.3,603.58 L214.64,603.64 L221.06,603.71 L227.33,603.77 L233.24,603.84 L238.57,603.9 L243.1,603.95 L246.8,604 L249.86,604.05 L252.4,604.11 L254.56,604.16 L256.43,604.2 L258.16,604.22 L259.86,604.21 L261.66,604.17 L263.43,604.12 L265.02,604.08 L266.46,604.03 L267.81,603.95 L269.11,603.82 L270.43,603.64 L271.79,603.39 L273.26,603.04 L274.82,602.58 L276.41,601.99 L278.03,601.32 L279.67,600.59 L281.32,599.85 L282.97,599.12 L284.62,598.45 L286.25,597.86 L287.84,597.34 L289.39,596.86 L290.92,596.41 L292.46,595.98 L294.03,595.58 L295.67,595.2 L297.4,594.83 L299.24,594.48 L301.22,594.14 L303.29,593.83 L305.45,593.55 L307.68,593.28 L309.96,593.02 L312.26,592.76 L314.57,592.5 L316.88,592.22 L319.22,591.92 L321.65,591.59 L324.13,591.26 L326.62,590.92 L329.08,590.61 L331.47,590.34 L333.76,590.12 L335.9,589.97 L337.91,589.89 L339.81,589.88 L341.64,589.92 L343.38,589.99 L345.06,590.1 L346.69,590.21 L348.27,590.32 L349.82,590.42 L351.32,590.54 L352.76,590.73 L354.14,590.95 L355.47,591.16 L356.77,591.34 L358.03,591.45 L359.27,591.45 L360.49,591.32 L361.69,591.04 L362.84,590.64 L363.95,590.15 L365.05,589.59 L366.12,588.97 L367.18,588.32 L368.24,587.67 L369.31,587.03 L370.37,586.34 L371.42,585.53 L372.45,584.66 L373.48,583.79 L374.51,582.98 L375.55,582.27 L376.6,581.72 L377.66,581.4 L378.74,581.34 L379.83,581.53 L380.93,581.89 L382.04,582.36 L383.15,582.85 L384.26,583.32 L385.37,583.68 L386.48,583.88 L387.58,583.92 L388.68,583.9 L389.78,583.81 L390.88,583.67 L391.99,583.48 L393.09,583.26 L394.19,583.01 L395.29,582.75 L396.39,582.39 L397.5,581.9 L398.6,581.34 L399.7,580.76 L400.8,580.24 L401.9,579.83 L403.01,579.59 L404.11,579.59 L405.21,579.88 L406.32,580.42 L407.43,581.14 L408.55,581.97 L409.65,582.85 L410.75,583.69 L411.84,584.43 L412.92,585 L414,585.46 L415.07,585.87 L416.13,586.24 L417.19,586.56 L418.23,586.8 L419.26,586.97 L420.28,587.05 L421.28,587.03 L422.3,586.87 L423.37,586.54 L424.45,586.09 L425.51,585.58 L426.5,585.06 L427.39,584.57 L428.13,584.16 L428.7,583.88" fill="none" stroke="#c8641e" stroke-width="1.6" stroke-linejoin="round"/>
<path d="M57.5,605.3 L58.43,605.3 L59.36,605.3 L60.28,605.3 L61.21,605.3 L62.14,605.3 L63.07,605.3 L64,605.3 L64.92,605.3 L65.85,605.3 L66.78,605.3 L67.71,605.3 L68.64,605.3 L69.56,605.3 L70.49,605.3 L71.42,605.3 L72.35,605.3 L73.28,605.3 L74.2,605.3 L75.13,605.3 L76.06,605.3 L76.99,605.3 L77.92,605.3 L78.84,605.3 L79.77,605.3 L80.7,605.3 L81.63,605.3 L82.56,605.3 L83.48,605.3 L84.41,605.3 L85.34,605.3 L86.27,605.3 L87.2,605.3 L88.12,605.3 L89.05,605.3 L89.98,605.3 L90.91,605.3 L91.84,605.3 L92.76,605.3 L93.69,605.3 L94.62,605.3 L95.55,605.3 L96.48,605.29 L97.4,605.29 L98.33,605.28 L99.26,605.27 L100.19,605.25 L101.12,605.22 L102.04,605.17 L102.97,605.1 L103.9,605 L104.83,604.85 L105.76,604.63 L106.68,604.31 L107.61,603.86 L108.54,603.24 L109.47,602.38 L110.4,601.23 L111.32,599.7 L112.25,597.68 L113.18,595.08 L114.11,591.77 L115.04,587.61 L115.96,582.48 L116.89,576.24 L117.82,568.77 L118.75,559.99 L119.68,549.81 L120.6,538.24 L121.53,525.3 L122.46,511.11 L123.39,495.84 L124.32,479.75 L125.24,463.16 L126.17,446.46 L127.1,430.11 L128.03,414.58 L128.96,400.37 L129.88,387.96 L130.81,377.79 L131.74,370.24 L132.67,365.59 L133.6,364.01 L134.52,364.08 L135.45,364.44 L136.38,365.22 L137.31,366.56 L138.24,368.55 L139.16,371.25 L140.09,374.74 L141.02,379.06 L141.95,384.21 L142.88,390.22 L143.8,397.06 L144.73,404.71 L145.66,413.1 L146.59,422.17 L147.52,431.83 L148.44,441.97 L149.37,452.5 L150.3,463.29 L151.23,474.21 L152.16,485.13 L153.08,495.94 L154.01,506.52 L154.94,516.76 L155.87,526.56 L156.8,535.84 L157.72,544.53 L158.65,552.59 L159.58,559.97 L160.51,566.66 L161.44,572.66 L162.36,577.98 L163.29,582.65 L164.22,586.7 L165.15,590.18 L166.08,593.13 L167,595.6 L167.93,597.65 L168.86,599.33 L169.79,600.69 L170.72,601.78 L171.64,602.64 L172.57,603.31 L173.5,603.83 L174.43,604.23 L175.36,604.52 L176.28,604.75 L177.21,604.91 L178.14,605.03 L179.07,605.11 L180,605.17 L180.92,605.21 L181.85,605.24 L182.78,605.26 L183.71,605.28 L184.64,605.28 L185.56,605.29 L186.49,605.29 L187.42,605.3 L188.35,605.3 L189.28,605.3 L190.2,605.3 L191.13,605.3 L192.06,605.3 L192.99,605.3 L193.92,605.3 L194.84,605.3 L195.77,605.3 L196.7,605.3 L197.63,605.3 L198.56,605.3 L199.48,605.3 L200.41,605.3 L201.34,605.3 L202.27,605.3 L203.2,605.3 L204.12,605.3 L205.05,605.3 L205.98,605.3 L206.91,605.3 L207.84,605.3 L208.76,605.3 L209.69,605.3 L210.62,605.3 L211.55,605.3 L212.48,605.3 L213.4,605.3 L214.33,605.3 L215.26,605.3 L216.19,605.3 L217.12,605.3 L218.04,605.3 L218.97,605.3 L219.9,605.3 L220.83,605.3 L221.76,605.3 L222.68,605.3 L223.61,605.3 L224.54,605.3 L225.47,605.3 L226.4,605.3 L227.32,605.3 L228.25,605.3 L229.18,605.3 L230.11,605.3 L231.04,605.3 L231.96,605.3 L232.89,605.3 L233.82,605.3 L234.75,605.3 L235.68,605.3 L236.6,605.3 L237.53,605.3 L238.46,605.3 L239.39,605.3 L240.32,605.3 L241.24,605.3 L242.17,605.3 L243.1,605.3 L244.03,605.3 L244.96,605.3 L245.88,605.3 L246.81,605.3 L247.74,605.3 L248.67,605.3 L249.6,605.3 L250.52,605.3 L251.45,605.3 L252.38,605.3 L253.31,605.3 L254.24,605.3 L255.16,605.3 L256.09,605.3 L257.02,605.3 L257.95,605.3 L258.88,605.3 L259.8,605.3 L260.73,605.3 L261.66,605.3 L262.59,605.3 L263.52,605.3 L264.44,605.3 L265.37,605.3 L266.3,605.3 L267.23,605.3 L268.16,605.3 L269.08,605.3 L270.01,605.3 L270.94,605.3 L271.87,605.3 L272.8,605.3 L273.72,605.3 L274.65,605.3 L275.58,605.3 L276.51,605.3 L277.44,605.3 L278.36,605.3 L279.29,605.3 L280.22,605.3 L281.15,605.3 L282.08,605.3 L283,605.3 L283.93,605.3 L284.86,605.3 L285.79,605.3 L286.72,605.3 L287.64,605.3 L288.57,605.3 L289.5,605.3 L290.43,605.3 L291.36,605.3 L292.28,605.3 L293.21,605.3 L294.14,605.3 L295.07,605.3 L296,605.3 L296.92,605.3 L297.85,605.3 L298.78,605.3 L299.71,605.3 L300.64,605.3 L301.56,605.3 L302.49,605.3 L303.42,605.3 L304.35,605.3 L305.28,605.3 L306.2,605.3 L307.13,605.3 L308.06,605.3 L308.99,605.3 L309.92,605.3 L310.84,605.3 L311.77,605.3 L312.7,605.3 L313.63,605.3 L314.56,605.3 L315.48,605.3 L316.41,605.3 L317.34,605.3 L318.27,605.3 L319.2,605.3 L320.12,605.3 L321.05,605.3 L321.98,605.3 L322.91,605.3 L323.84,605.3 L324.76,605.3 L325.69,605.3 L326.62,605.3 L327.55,605.3 L328.48,605.3 L329.4,605.3 L330.33,605.3 L331.26,605.3 L332.19,605.3 L333.12,605.3 L334.04,605.3 L334.97,605.3 L335.9,605.3 L336.83,605.3 L337.76,605.3 L338.68,605.3 L339.61,605.3 L340.54,605.3 L341.47,605.3 L342.4,605.3 L343.32,605.3 L344.25,605.3 L345.18,605.3 L346.11,605.3 L347.04,605.3 L347.96,605.3 L348.89,605.3 L349.82,605.3 L350.75,605.3 L351.68,605.3 L352.6,605.3 L353.53,605.3 L354.46,605.3 L355.39,605.3 L356.32,605.3 L357.24,605.3 L358.17,605.3 L359.1,605.3 L360.03,605.3 L360.96,605.3 L361.88,605.3 L362.81,605.3 L363.74,605.3 L364.67,605.3 L365.6,605.3 L366.52,605.3 L367.45,605.3 L368.38,605.3 L369.31,605.3 L370.24,605.3 L371.16,605.3 L372.09,605.3 L373.02,605.3 L373.95,605.3 L374.88,605.3 L375.8,605.3 L376.73,605.3 L377.66,605.3 L378.59,605.3 L379.52,605.3 L380.44,605.3 L381.37,605.3 L382.3,605.3 L383.23,605.3 L384.16,605.3 L385.08,605.3 L386.01,605.3 L386.94,605.3 L387.87,605.3 L388.8,605.3 L389.72,605.3 L390.65,605.3 L391.58,605.3 L392.51,605.3 L393.44,605.3 L394.36,605.3 L395.29,605.3 L396.22,605.3 L397.15,605.3 L398.08,605.3 L399,605.3 L399.93,605.3 L400.86,605.3 L401.79,605.3 L402.72,605.3 L403.64,605.3 L404.57,605.3 L405.5,605.3 L406.43,605.3 L407.36,605.3 L408.28,605.3 L409.21,605.3 L410.14,605.3 L411.07,605.3 L412,605.3 L412.92,605.3 L413.85,605.3 L414.78,605.3 L415.71,605.3 L416.64,605.3 L417.56,605.3 L418.49,605.3 L419.42,605.3 L420.35,605.3 L421.28,605.3 L422.2,605.3 L423.13,605.3 L424.06,605.3 L424.99,605.3 L425.92,605.3 L426.84,605.3 L427.77,605.3 L428.7,605.3 L428.7,605.3 L57.5,605.3Z" fill="#e0393f" fill-opacity="0.72"/><path d="M57.5,605.3 L58.43,605.3 L59.36,605.3 L60.28,605.3 L61.21,605.3 L62.14,605.3 L63.07,605.3 L64,605.3 L64.92,605.3 L65.85,605.3 L66.78,605.3 L67.71,605.3 L68.64,605.3 L69.56,605.3 L70.49,605.3 L71.42,605.3 L72.35,605.3 L73.28,605.3 L74.2,605.3 L75.13,605.3 L76.06,605.3 L76.99,605.3 L77.92,605.3 L78.84,605.3 L79.77,605.3 L80.7,605.3 L81.63,605.3 L82.56,605.3 L83.48,605.3 L84.41,605.3 L85.34,605.3 L86.27,605.3 L87.2,605.3 L88.12,605.3 L89.05,605.3 L89.98,605.3 L90.91,605.3 L91.84,605.3 L92.76,605.3 L93.69,605.3 L94.62,605.3 L95.55,605.3 L96.48,605.29 L97.4,605.29 L98.33,605.28 L99.26,605.27 L100.19,605.25 L101.12,605.22 L102.04,605.17 L102.97,605.1 L103.9,605 L104.83,604.85 L105.76,604.63 L106.68,604.31 L107.61,603.86 L108.54,603.24 L109.47,602.38 L110.4,601.23 L111.32,599.7 L112.25,597.68 L113.18,595.08 L114.11,591.77 L115.04,587.61 L115.96,582.48 L116.89,576.24 L117.82,568.77 L118.75,559.99 L119.68,549.81 L120.6,538.24 L121.53,525.3 L122.46,511.11 L123.39,495.84 L124.32,479.75 L125.24,463.16 L126.17,446.46 L127.1,430.11 L128.03,414.58 L128.96,400.37 L129.88,387.96 L130.81,377.79 L131.74,370.24 L132.67,365.59 L133.6,364.01 L134.52,364.08 L135.45,364.44 L136.38,365.22 L137.31,366.56 L138.24,368.55 L139.16,371.25 L140.09,374.74 L141.02,379.06 L141.95,384.21 L142.88,390.22 L143.8,397.06 L144.73,404.71 L145.66,413.1 L146.59,422.17 L147.52,431.83 L148.44,441.97 L149.37,452.5 L150.3,463.29 L151.23,474.21 L152.16,485.13 L153.08,495.94 L154.01,506.52 L154.94,516.76 L155.87,526.56 L156.8,535.84 L157.72,544.53 L158.65,552.59 L159.58,559.97 L160.51,566.66 L161.44,572.66 L162.36,577.98 L163.29,582.65 L164.22,586.7 L165.15,590.18 L166.08,593.13 L167,595.6 L167.93,597.65 L168.86,599.33 L169.79,600.69 L170.72,601.78 L171.64,602.64 L172.57,603.31 L173.5,603.83 L174.43,604.23 L175.36,604.52 L176.28,604.75 L177.21,604.91 L178.14,605.03 L179.07,605.11 L180,605.17 L180.92,605.21 L181.85,605.24 L182.78,605.26 L183.71,605.28 L184.64,605.28 L185.56,605.29 L186.49,605.29 L187.42,605.3 L188.35,605.3 L189.28,605.3 L190.2,605.3 L191.13,605.3 L192.06,605.3 L192.99,605.3 L193.92,605.3 L194.84,605.3 L195.77,605.3 L196.7,605.3 L197.63,605.3 L198.56,605.3 L199.48,605.3 L200.41,605.3 L201.34,605.3 L202.27,605.3 L203.2,605.3 L204.12,605.3 L205.05,605.3 L205.98,605.3 L206.91,605.3 L207.84,605.3 L208.76,605.3 L209.69,605.3 L210.62,605.3 L211.55,605.3 L212.48,605.3 L213.4,605.3 L214.33,605.3 L215.26,605.3 L216.19,605.3 L217.12,605.3 L218.04,605.3 L218.97,605.3 L219.9,605.3 L220.83,605.3 L221.76,605.3 L222.68,605.3 L223.61,605.3 L224.54,605.3 L225.47,605.3 L226.4,605.3 L227.32,605.3 L228.25,605.3 L229.18,605.3 L230.11,605.3 L231.04,605.3 L231.96,605.3 L232.89,605.3 L233.82,605.3 L234.75,605.3 L235.68,605.3 L236.6,605.3 L237.53,605.3 L238.46,605.3 L239.39,605.3 L240.32,605.3 L241.24,605.3 L242.17,605.3 L243.1,605.3 L244.03,605.3 L244.96,605.3 L245.88,605.3 L246.81,605.3 L247.74,605.3 L248.67,605.3 L249.6,605.3 L250.52,605.3 L251.45,605.3 L252.38,605.3 L253.31,605.3 L254.24,605.3 L255.16,605.3 L256.09,605.3 L257.02,605.3 L257.95,605.3 L258.88,605.3 L259.8,605.3 L260.73,605.3 L261.66,605.3 L262.59,605.3 L263.52,605.3 L264.44,605.3 L265.37,605.3 L266.3,605.3 L267.23,605.3 L268.16,605.3 L269.08,605.3 L270.01,605.3 L270.94,605.3 L271.87,605.3 L272.8,605.3 L273.72,605.3 L274.65,605.3 L275.58,605.3 L276.51,605.3 L277.44,605.3 L278.36,605.3 L279.29,605.3 L280.22,605.3 L281.15,605.3 L282.08,605.3 L283,605.3 L283.93,605.3 L284.86,605.3 L285.79,605.3 L286.72,605.3 L287.64,605.3 L288.57,605.3 L289.5,605.3 L290.43,605.3 L291.36,605.3 L292.28,605.3 L293.21,605.3 L294.14,605.3 L295.07,605.3 L296,605.3 L296.92,605.3 L297.85,605.3 L298.78,605.3 L299.71,605.3 L300.64,605.3 L301.56,605.3 L302.49,605.3 L303.42,605.3 L304.35,605.3 L305.28,605.3 L306.2,605.3 L307.13,605.3 L308.06,605.3 L308.99,605.3 L309.92,605.3 L310.84,605.3 L311.77,605.3 L312.7,605.3 L313.63,605.3 L314.56,605.3 L315.48,605.3 L316.41,605.3 L317.34,605.3 L318.27,605.3 L319.2,605.3 L320.12,605.3 L321.05,605.3 L321.98,605.3 L322.91,605.3 L323.84,605.3 L324.76,605.3 L325.69,605.3 L326.62,605.3 L327.55,605.3 L328.48,605.3 L329.4,605.3 L330.33,605.3 L331.26,605.3 L332.19,605.3 L333.12,605.3 L334.04,605.3 L334.97,605.3 L335.9,605.3 L336.83,605.3 L337.76,605.3 L338.68,605.3 L339.61,605.3 L340.54,605.3 L341.47,605.3 L342.4,605.3 L343.32,605.3 L344.25,605.3 L345.18,605.3 L346.11,605.3 L347.04,605.3 L347.96,605.3 L348.89,605.3 L349.82,605.3 L350.75,605.3 L351.68,605.3 L352.6,605.3 L353.53,605.3 L354.46,605.3 L355.39,605.3 L356.32,605.3 L357.24,605.3 L358.17,605.3 L359.1,605.3 L360.03,605.3 L360.96,605.3 L361.88,605.3 L362.81,605.3 L363.74,605.3 L364.67,605.3 L365.6,605.3 L366.52,605.3 L367.45,605.3 L368.38,605.3 L369.31,605.3 L370.24,605.3 L371.16,605.3 L372.09,605.3 L373.02,605.3 L373.95,605.3 L374.88,605.3 L375.8,605.3 L376.73,605.3 L377.66,605.3 L378.59,605.3 L379.52,605.3 L380.44,605.3 L381.37,605.3 L382.3,605.3 L383.23,605.3 L384.16,605.3 L385.08,605.3 L386.01,605.3 L386.94,605.3 L387.87,605.3 L388.8,605.3 L389.72,605.3 L390.65,605.3 L391.58,605.3 L392.51,605.3 L393.44,605.3 L394.36,605.3 L395.29,605.3 L396.22,605.3 L397.15,605.3 L398.08,605.3 L399,605.3 L399.93,605.3 L400.86,605.3 L401.79,605.3 L402.72,605.3 L403.64,605.3 L404.57,605.3 L405.5,605.3 L406.43,605.3 L407.36,605.3 L408.28,605.3 L409.21,605.3 L410.14,605.3 L411.07,605.3 L412,605.3 L412.92,605.3 L413.85,605.3 L414.78,605.3 L415.71,605.3 L416.64,605.3 L417.56,605.3 L418.49,605.3 L419.42,605.3 L420.35,605.3 L421.28,605.3 L422.2,605.3 L423.13,605.3 L424.06,605.3 L424.99,605.3 L425.92,605.3 L426.84,605.3 L427.77,605.3 L428.7,605.3" fill="none" stroke="#d01018" stroke-width="2" stroke-linejoin="round"/>
</g>
<path d="M57.5,605.3 V338.7 H428.7 V605.3" fill="none" stroke="#222" stroke-width="1.3"/>
<rect x="270" y="372" width="152" height="118" fill="#fff"/>
<rect x="279.5" y="381.3" width="27.6" height="11.4" fill="#e0393f" fill-opacity="0.75" stroke="#d01018" stroke-width="1.3"/>
<rect x="279.5" y="409.2" width="27.6" height="11.4" fill="#f9c9a0" fill-opacity="0.7" stroke="#c8641e" stroke-width="1.3"/>
<rect x="279.5" y="442.3" width="27.6" height="11.4" fill="#4a9ad0" fill-opacity="0.75" stroke="#1e74b8" stroke-width="1.3"/>
<rect x="279.5" y="470.6" width="27.6" height="11.4" fill="#d4f09a" fill-opacity="0.7" stroke="#7ab32e" stroke-width="1.3"/>
<text x="317.5" y="391" font-size="19.5"><tspan font-weight="bold">Eu</tspan><tspan fill="#333" font-size="19.6" letter-spacing="1.8">- 4<tspan font-style="italic">f</tspan></tspan></text>
<text x="317.5" y="418.8" font-size="19.5"><tspan font-weight="bold">Eu</tspan><tspan fill="#333" font-size="19.6" letter-spacing="2.3">-5<tspan font-style="italic">d</tspan>&amp;<tspan dx="3">6</tspan><tspan font-style="italic">s</tspan></tspan></text>
<text x="317.5" y="451.8" font-size="19.5" font-weight="bold">Co</text>
<text x="317.5" y="479.8" font-size="19.5" font-weight="bold">Al</text>
<text x="57.5" y="629" font-size="22" text-anchor="middle">-4</text>
<text x="150.3" y="629" font-size="22" text-anchor="middle">-2</text>
<text x="243.1" y="629" font-size="22" text-anchor="middle">0</text>
<text x="335.9" y="629" font-size="22" text-anchor="middle">2</text>
<text x="428.7" y="629" font-size="22" text-anchor="middle">4</text>
<text x="53.5" y="613.3" font-size="22" text-anchor="end">0</text>
<text x="53.5" y="523.1" font-size="22" text-anchor="end">4</text>
<text x="53.5" y="432.9" font-size="22" text-anchor="end">8</text>
<text x="243" y="660" font-size="27" font-style="italic" text-anchor="middle">E-E<tspan font-size="19" dy="6">F</tspan></text>
<text transform="translate(31,476) rotate(-90)" font-size="28.3" text-anchor="middle">PDOS (states/eV)</text>
<text x="1.5" y="328" font-size="35.5" font-weight="bold">(b)</text></g>
<g id="panel-c"><clipPath id="cclip"><rect x="536" y="41" width="317.4" height="210.4"/></clipPath>
<line x1="536" y1="45.8" x2="853.4" y2="45.8" stroke="#9a9a9a" stroke-width="1.6" stroke-dasharray="6.8,4"/>
<line x1="536" y1="93.2" x2="853.4" y2="93.2" stroke="#9a9a9a" stroke-width="1.6" stroke-dasharray="6.8,4"/>
<line x1="576.4" y1="41" x2="576.4" y2="251.4" stroke="#9cc3ea" stroke-width="1.3" stroke-dasharray="6.5,4"/>
<g clip-path="url(#cclip)">
<ellipse cx="536" cy="145.7" rx="37" ry="27.3" fill="none" stroke="#e2b21c" stroke-width="2.4"/>
<ellipse cx="536" cy="145.7" rx="36.5" ry="26.8" fill="none" stroke="#7cb84a" stroke-width="1"/>
<ellipse cx="853.4" cy="145.7" rx="37" ry="27.3" fill="none" stroke="#e2b21c" stroke-width="2.4"/>
<ellipse cx="853.4" cy="145.7" rx="36.5" ry="26.8" fill="none" stroke="#7cb84a" stroke-width="1"/>
</g>
<path d="M694.6,91.1 L695.36,91.11 L696.12,91.12 L696.89,91.16 L697.66,91.2 L698.42,91.26 L699.17,91.32 L699.9,91.41 L700.6,91.5 L701.28,91.61 L701.94,91.74 L702.59,91.88 L703.23,92.03 L703.84,92.19 L704.44,92.36 L705.03,92.53 L705.6,92.7 L706.15,92.87 L706.68,93.04 L707.2,93.21 L707.7,93.38 L708.19,93.57 L708.67,93.76 L709.14,93.97 L709.6,94.2 L710.02,94.38 L710.36,94.49 L710.67,94.57 L710.99,94.68 L711.34,94.88 L711.77,95.21 L712.31,95.73 L713,96.5 L713.87,97.54 L714.88,98.81 L716.02,100.27 L717.23,101.87 L718.47,103.56 L719.7,105.29 L720.89,107.02 L722,108.7 L723.04,110.37 L724.07,112.11 L725.08,113.88 L726.08,115.68 L727.04,117.48 L727.99,119.26 L728.91,121.01 L729.8,122.7 L730.68,124.38 L731.56,126.07 L732.42,127.76 L733.26,129.42 L734.05,131.02 L734.78,132.53 L735.43,133.93 L736,135.2 L736.47,136.32 L736.85,137.31 L737.16,138.19 L737.41,138.98 L737.62,139.71 L737.79,140.39 L737.95,141.05 L738.1,141.7 L738.24,142.32 L738.34,142.88 L738.41,143.38 L738.46,143.86 L738.48,144.31 L738.5,144.76 L738.5,145.22 L738.5,145.7 L738.5,146.18 L738.5,146.64 L738.48,147.09 L738.46,147.54 L738.41,148.02 L738.34,148.52 L738.24,149.08 L738.1,149.7 L737.95,150.35 L737.79,151.01 L737.62,151.69 L737.41,152.42 L737.16,153.21 L736.85,154.09 L736.47,155.08 L736,156.2 L735.43,157.47 L734.78,158.87 L734.05,160.38 L733.26,161.98 L732.42,163.64 L731.56,165.33 L730.68,167.02 L729.8,168.7 L728.91,170.39 L727.99,172.14 L727.04,173.92 L726.07,175.72 L725.08,177.52 L724.07,179.29 L723.04,181.03 L722,182.7 L720.89,184.38 L719.7,186.11 L718.47,187.84 L717.22,189.53 L716.02,191.13 L714.88,192.59 L713.87,193.86 L713,194.9 L712.31,195.67 L711.77,196.19 L711.34,196.52 L710.99,196.72 L710.67,196.83 L710.36,196.91 L710.02,197.02 L709.6,197.2 L709.14,197.43 L708.67,197.64 L708.19,197.83 L707.7,198.02 L707.2,198.19 L706.68,198.36 L706.15,198.53 L705.6,198.7 L705.03,198.87 L704.44,199.04 L703.84,199.21 L703.23,199.37 L702.59,199.52 L701.94,199.66 L701.28,199.79 L700.6,199.9 L699.9,199.99 L699.17,200.07 L698.42,200.14 L697.66,200.2 L696.89,200.24 L696.12,200.27 L695.36,200.29 L694.6,200.3 L693.84,200.29 L693.08,200.27 L692.31,200.24 L691.54,200.2 L690.78,200.14 L690.03,200.07 L689.3,199.99 L688.6,199.9 L687.92,199.79 L687.26,199.66 L686.61,199.52 L685.98,199.37 L685.36,199.21 L684.76,199.04 L684.17,198.87 L683.6,198.7 L683.05,198.53 L682.52,198.36 L682,198.19 L681.5,198.02 L681.01,197.83 L680.53,197.64 L680.06,197.43 L679.6,197.2 L679.18,197.02 L678.84,196.91 L678.53,196.83 L678.21,196.72 L677.86,196.52 L677.43,196.19 L676.89,195.67 L676.2,194.9 L675.33,193.86 L674.32,192.59 L673.18,191.13 L671.98,189.53 L670.73,187.84 L669.5,186.11 L668.31,184.38 L667.2,182.7 L666.16,181.03 L665.13,179.29 L664.12,177.52 L663.12,175.72 L662.16,173.92 L661.21,172.14 L660.29,170.39 L659.4,168.7 L658.52,167.02 L657.64,165.33 L656.78,163.64 L655.94,161.98 L655.15,160.38 L654.42,158.87 L653.77,157.47 L653.2,156.2 L652.73,155.08 L652.35,154.09 L652.04,153.21 L651.79,152.42 L651.58,151.69 L651.41,151.01 L651.25,150.35 L651.1,149.7 L650.96,149.08 L650.86,148.52 L650.79,148.02 L650.74,147.54 L650.72,147.09 L650.7,146.64 L650.7,146.18 L650.7,145.7 L650.7,145.22 L650.7,144.76 L650.72,144.31 L650.74,143.86 L650.79,143.38 L650.86,142.88 L650.96,142.32 L651.1,141.7 L651.25,141.05 L651.41,140.39 L651.58,139.71 L651.79,138.98 L652.04,138.19 L652.35,137.31 L652.73,136.32 L653.2,135.2 L653.77,133.93 L654.42,132.53 L655.15,131.02 L655.94,129.42 L656.78,127.76 L657.64,126.07 L658.52,124.38 L659.4,122.7 L660.29,121.01 L661.21,119.26 L662.16,117.48 L663.12,115.68 L664.12,113.88 L665.13,112.11 L666.16,110.37 L667.2,108.7 L668.31,107.02 L669.5,105.29 L670.73,103.56 L671.98,101.87 L673.18,100.27 L674.32,98.81 L675.33,97.54 L676.2,96.5 L676.89,95.73 L677.43,95.21 L677.86,94.88 L678.21,94.68 L678.53,94.57 L678.84,94.49 L679.18,94.38 L679.6,94.2 L680.06,93.97 L680.53,93.76 L681.01,93.57 L681.5,93.38 L682,93.21 L682.52,93.04 L683.05,92.87 L683.6,92.7 L684.17,92.53 L684.76,92.36 L685.36,92.19 L685.98,92.03 L686.61,91.88 L687.26,91.74 L687.92,91.61 L688.6,91.5 L689.3,91.41 L690.03,91.32 L690.78,91.26 L691.54,91.2 L692.31,91.16 L693.08,91.12 L693.84,91.11Z" fill="none" stroke="#8a5fb4" stroke-width="1.4"/>
<path d="M694.6,86.4 L695.16,86.41 L695.73,86.43 L696.3,86.47 L696.87,86.52 L697.43,86.59 L698,86.67 L698.55,86.78 L699.1,86.9 L699.64,87.04 L700.17,87.19 L700.69,87.36 L701.21,87.55 L701.73,87.76 L702.25,87.98 L702.77,88.23 L703.3,88.5 L703.83,88.79 L704.35,89.11 L704.87,89.44 L705.39,89.79 L705.92,90.17 L706.47,90.56 L707.02,90.97 L707.6,91.4 L708.17,91.8 L708.72,92.14 L709.26,92.47 L709.83,92.84 L710.43,93.28 L711.1,93.84 L711.85,94.57 L712.7,95.5 L713.69,96.67 L714.8,98.04 L716.01,99.57 L717.27,101.22 L718.56,102.96 L719.83,104.72 L721.06,106.49 L722.2,108.2 L723.27,109.91 L724.33,111.66 L725.35,113.45 L726.35,115.25 L727.33,117.05 L728.28,118.84 L729.2,120.59 L730.1,122.3 L730.99,124 L731.89,125.71 L732.76,127.43 L733.61,129.11 L734.42,130.74 L735.16,132.28 L735.82,133.71 L736.4,135 L736.88,136.14 L737.26,137.16 L737.57,138.07 L737.82,138.89 L738.02,139.65 L738.19,140.36 L738.35,141.03 L738.5,141.7 L738.64,142.33 L738.74,142.89 L738.81,143.4 L738.86,143.87 L738.88,144.32 L738.9,144.76 L738.9,145.22 L738.9,145.7 L738.9,146.18 L738.9,146.64 L738.88,147.08 L738.86,147.53 L738.81,148 L738.74,148.51 L738.64,149.07 L738.5,149.7 L738.35,150.37 L738.19,151.04 L738.02,151.75 L737.82,152.51 L737.57,153.33 L737.26,154.24 L736.88,155.26 L736.4,156.4 L735.82,157.69 L735.16,159.12 L734.42,160.66 L733.61,162.29 L732.76,163.97 L731.89,165.69 L730.99,167.4 L730.1,169.1 L729.2,170.81 L728.28,172.56 L727.33,174.35 L726.35,176.15 L725.35,177.95 L724.33,179.74 L723.28,181.49 L722.2,183.2 L721.06,184.91 L719.83,186.67 L718.56,188.44 L717.27,190.17 L716.01,191.83 L714.8,193.36 L713.69,194.73 L712.7,195.9 L711.85,196.83 L711.1,197.56 L710.43,198.12 L709.83,198.56 L709.26,198.93 L708.72,199.26 L708.17,199.6 L707.6,200 L707.02,200.43 L706.47,200.84 L705.92,201.23 L705.39,201.61 L704.87,201.96 L704.35,202.29 L703.83,202.61 L703.3,202.9 L702.77,203.17 L702.25,203.42 L701.73,203.64 L701.21,203.85 L700.69,204.04 L700.17,204.21 L699.64,204.36 L699.1,204.5 L698.55,204.62 L698,204.73 L697.43,204.81 L696.87,204.88 L696.3,204.93 L695.73,204.97 L695.16,204.99 L694.6,205 L694.04,204.99 L693.47,204.97 L692.9,204.93 L692.33,204.88 L691.77,204.81 L691.2,204.73 L690.65,204.62 L690.1,204.5 L689.56,204.36 L689.03,204.21 L688.51,204.04 L687.99,203.85 L687.47,203.64 L686.95,203.42 L686.43,203.17 L685.9,202.9 L685.37,202.61 L684.85,202.29 L684.33,201.96 L683.81,201.61 L683.28,201.23 L682.73,200.84 L682.18,200.43 L681.6,200 L681.03,199.6 L680.48,199.26 L679.94,198.93 L679.38,198.56 L678.77,198.12 L678.1,197.56 L677.35,196.83 L676.5,195.9 L675.51,194.73 L674.4,193.36 L673.19,191.83 L671.93,190.17 L670.64,188.44 L669.37,186.68 L668.14,184.91 L667,183.2 L665.93,181.49 L664.88,179.74 L663.85,177.95 L662.85,176.15 L661.88,174.35 L660.93,172.56 L660,170.81 L659.1,169.1 L658.21,167.4 L657.31,165.69 L656.44,163.97 L655.59,162.29 L654.78,160.66 L654.04,159.12 L653.38,157.69 L652.8,156.4 L652.32,155.26 L651.94,154.24 L651.63,153.33 L651.38,152.51 L651.18,151.75 L651.01,151.04 L650.85,150.37 L650.7,149.7 L650.56,149.07 L650.46,148.51 L650.39,148 L650.34,147.53 L650.32,147.08 L650.3,146.64 L650.3,146.18 L650.3,145.7 L650.3,145.22 L650.3,144.76 L650.32,144.32 L650.34,143.87 L650.39,143.4 L650.46,142.89 L650.56,142.33 L650.7,141.7 L650.85,141.03 L651.01,140.36 L651.18,139.65 L651.38,138.89 L651.63,138.07 L651.94,137.16 L652.32,136.14 L652.8,135 L653.38,133.71 L654.04,132.28 L654.78,130.74 L655.59,129.11 L656.44,127.43 L657.31,125.71 L658.21,124 L659.1,122.3 L660,120.59 L660.92,118.84 L661.88,117.05 L662.85,115.25 L663.85,113.45 L664.88,111.66 L665.93,109.91 L667,108.2 L668.14,106.49 L669.37,104.72 L670.64,102.96 L671.93,101.22 L673.19,99.57 L674.4,98.04 L675.51,96.67 L676.5,95.5 L677.35,94.57 L678.1,93.84 L678.77,93.28 L679.38,92.84 L679.94,92.47 L680.48,92.14 L681.03,91.8 L681.6,91.4 L682.18,90.97 L682.73,90.56 L683.28,90.17 L683.81,89.79 L684.33,89.44 L684.85,89.11 L685.37,88.79 L685.9,88.5 L686.43,88.23 L686.95,87.98 L687.47,87.76 L687.99,87.55 L688.51,87.36 L689.03,87.19 L689.56,87.04 L690.1,86.9 L690.65,86.78 L691.2,86.67 L691.77,86.59 L692.33,86.52 L692.9,86.47 L693.47,86.43 L694.04,86.41Z" fill="none" stroke="#2f6fb0" stroke-width="1.7"/>
<path d="M694.6,77.7 L695.21,77.71 L695.81,77.76 L696.4,77.83 L696.99,77.92 L697.59,78.03 L698.22,78.17 L698.89,78.33 L699.6,78.5 L700.35,78.69 L701.11,78.91 L701.9,79.15 L702.72,79.41 L703.57,79.69 L704.47,79.98 L705.41,80.29 L706.4,80.6 L707.46,80.95 L708.59,81.33 L709.77,81.75 L710.99,82.17 L712.23,82.58 L713.47,82.97 L714.7,83.31 L715.9,83.6 L717.08,83.82 L718.25,83.99 L719.43,84.11 L720.6,84.21 L721.77,84.3 L722.95,84.38 L724.12,84.48 L725.3,84.6 L726.51,84.73 L727.75,84.84 L729.02,84.95 L730.28,85.07 L731.5,85.2 L732.68,85.36 L733.79,85.56 L734.8,85.8 L735.71,86.06 L736.53,86.32 L737.29,86.6 L737.99,86.91 L738.66,87.28 L739.31,87.72 L739.95,88.26 L740.6,88.9 L741.25,89.66 L741.89,90.52 L742.51,91.47 L743.11,92.5 L743.7,93.59 L744.28,94.73 L744.85,95.9 L745.4,97.1 L745.95,98.34 L746.5,99.64 L747.03,100.98 L747.56,102.37 L748.06,103.8 L748.54,105.25 L748.99,106.72 L749.4,108.2 L749.78,109.7 L750.12,111.24 L750.43,112.82 L750.72,114.41 L750.99,116.01 L751.24,117.61 L751.47,119.21 L751.7,120.8 L751.92,122.38 L752.12,123.96 L752.3,125.54 L752.47,127.12 L752.62,128.7 L752.76,130.27 L752.89,131.84 L753,133.4 L753.1,134.95 L753.18,136.5 L753.25,138.03 L753.31,139.57 L753.35,141.1 L753.38,142.63 L753.39,144.16 L753.4,145.7 L753.39,147.24 L753.38,148.77 L753.35,150.3 L753.31,151.83 L753.25,153.37 L753.18,154.9 L753.1,156.45 L753,158 L752.89,159.56 L752.76,161.13 L752.62,162.7 L752.47,164.28 L752.3,165.86 L752.12,167.44 L751.92,169.02 L751.7,170.6 L751.47,172.19 L751.24,173.79 L750.99,175.39 L750.72,176.99 L750.43,178.58 L750.12,180.16 L749.78,181.7 L749.4,183.2 L748.99,184.68 L748.54,186.15 L748.06,187.6 L747.56,189.03 L747.03,190.42 L746.5,191.76 L745.95,193.06 L745.4,194.3 L744.85,195.5 L744.28,196.67 L743.7,197.81 L743.11,198.9 L742.51,199.93 L741.89,200.88 L741.25,201.74 L740.6,202.5 L739.95,203.14 L739.31,203.68 L738.66,204.12 L737.99,204.49 L737.29,204.8 L736.53,205.08 L735.71,205.34 L734.8,205.6 L733.79,205.84 L732.68,206.04 L731.5,206.2 L730.28,206.33 L729.02,206.45 L727.75,206.56 L726.51,206.67 L725.3,206.8 L724.12,206.92 L722.95,207.02 L721.77,207.1 L720.6,207.19 L719.43,207.29 L718.25,207.41 L717.08,207.58 L715.9,207.8 L714.7,208.09 L713.47,208.43 L712.23,208.82 L710.99,209.23 L709.77,209.65 L708.59,210.07 L707.46,210.45 L706.4,210.8 L705.41,211.11 L704.47,211.42 L703.57,211.71 L702.72,211.99 L701.9,212.25 L701.11,212.49 L700.35,212.71 L699.6,212.9 L698.89,213.07 L698.22,213.23 L697.59,213.37 L696.99,213.48 L696.4,213.57 L695.81,213.64 L695.21,213.69 L694.6,213.7 L693.99,213.69 L693.39,213.64 L692.8,213.57 L692.21,213.48 L691.61,213.37 L690.98,213.23 L690.31,213.07 L689.6,212.9 L688.85,212.71 L688.09,212.49 L687.3,212.25 L686.48,211.99 L685.63,211.71 L684.73,211.42 L683.79,211.11 L682.8,210.8 L681.74,210.45 L680.61,210.07 L679.43,209.65 L678.21,209.23 L676.97,208.82 L675.73,208.43 L674.5,208.09 L673.3,207.8 L672.12,207.58 L670.95,207.41 L669.77,207.29 L668.6,207.19 L667.43,207.1 L666.25,207.02 L665.08,206.92 L663.9,206.8 L662.69,206.67 L661.45,206.56 L660.18,206.45 L658.92,206.33 L657.7,206.2 L656.52,206.04 L655.41,205.84 L654.4,205.6 L653.49,205.34 L652.67,205.08 L651.91,204.8 L651.21,204.49 L650.54,204.12 L649.89,203.68 L649.25,203.14 L648.6,202.5 L647.95,201.74 L647.31,200.88 L646.69,199.93 L646.09,198.9 L645.5,197.81 L644.92,196.67 L644.35,195.5 L643.8,194.3 L643.25,193.06 L642.7,191.76 L642.17,190.42 L641.64,189.02 L641.14,187.6 L640.66,186.15 L640.21,184.68 L639.8,183.2 L639.42,181.7 L639.08,180.16 L638.77,178.58 L638.48,176.99 L638.21,175.39 L637.96,173.79 L637.73,172.19 L637.5,170.6 L637.28,169.02 L637.08,167.44 L636.9,165.86 L636.73,164.28 L636.58,162.7 L636.44,161.13 L636.31,159.56 L636.2,158 L636.1,156.45 L636.02,154.9 L635.95,153.37 L635.89,151.83 L635.85,150.3 L635.82,148.77 L635.81,147.24 L635.8,145.7 L635.81,144.16 L635.82,142.63 L635.85,141.1 L635.89,139.57 L635.95,138.03 L636.02,136.5 L636.1,134.95 L636.2,133.4 L636.31,131.84 L636.44,130.27 L636.58,128.7 L636.73,127.12 L636.9,125.54 L637.08,123.96 L637.28,122.38 L637.5,120.8 L637.73,119.21 L637.96,117.61 L638.21,116.01 L638.48,114.41 L638.77,112.82 L639.08,111.24 L639.42,109.7 L639.8,108.2 L640.21,106.72 L640.66,105.25 L641.14,103.8 L641.64,102.37 L642.17,100.98 L642.7,99.64 L643.25,98.34 L643.8,97.1 L644.35,95.9 L644.92,94.73 L645.5,93.59 L646.09,92.5 L646.69,91.47 L647.31,90.52 L647.95,89.66 L648.6,88.9 L649.25,88.26 L649.89,87.72 L650.54,87.28 L651.21,86.91 L651.91,86.6 L652.67,86.32 L653.49,86.06 L654.4,85.8 L655.41,85.56 L656.52,85.36 L657.7,85.2 L658.92,85.07 L660.18,84.95 L661.45,84.84 L662.69,84.73 L663.9,84.6 L665.08,84.48 L666.25,84.38 L667.43,84.3 L668.6,84.21 L669.77,84.11 L670.95,83.99 L672.12,83.82 L673.3,83.6 L674.5,83.31 L675.73,82.97 L676.97,82.58 L678.21,82.17 L679.43,81.75 L680.61,81.33 L681.74,80.95 L682.8,80.6 L683.79,80.29 L684.73,79.98 L685.63,79.69 L686.48,79.41 L687.3,79.15 L688.09,78.91 L688.85,78.69 L689.6,78.5 L690.31,78.33 L690.98,78.17 L691.61,78.03 L692.21,77.92 L692.8,77.83 L693.39,77.76 L693.99,77.71Z" fill="none" stroke="#2fb0a8" stroke-width="1.6"/>
<path d="M694.6,65.3 L696.11,65.29 L697.63,65.25 L699.15,65.21 L700.67,65.19 L702.18,65.19 L703.68,65.23 L705.15,65.33 L706.6,65.5 L708.01,65.73 L709.4,66.01 L710.76,66.34 L712.11,66.71 L713.45,67.13 L714.79,67.6 L716.14,68.13 L717.5,68.7 L718.9,69.35 L720.35,70.1 L721.82,70.91 L723.29,71.76 L724.71,72.63 L726.08,73.49 L727.35,74.32 L728.5,75.1 L729.51,75.84 L730.41,76.58 L731.21,77.31 L731.94,78.02 L732.64,78.72 L733.34,79.38 L734.04,80.01 L734.8,80.6 L735.57,81.15 L736.3,81.67 L737.02,82.15 L737.75,82.61 L738.5,83.04 L739.3,83.44 L740.16,83.83 L741.1,84.2 L742.15,84.54 L743.29,84.83 L744.5,85.1 L745.76,85.35 L747.02,85.59 L748.27,85.84 L749.47,86.11 L750.6,86.4 L751.68,86.71 L752.76,87.01 L753.83,87.32 L754.86,87.64 L755.84,87.98 L756.77,88.35 L757.63,88.75 L758.4,89.2 L759.08,89.69 L759.69,90.21 L760.23,90.77 L760.71,91.36 L761.13,91.97 L761.52,92.62 L761.87,93.3 L762.2,94 L762.49,94.74 L762.74,95.53 L762.95,96.36 L763.12,97.21 L763.25,98.08 L763.36,98.96 L763.44,99.84 L763.5,100.7 L763.54,101.55 L763.55,102.4 L763.53,103.25 L763.48,104.1 L763.41,104.97 L763.3,105.85 L763.17,106.76 L763,107.7 L762.81,108.63 L762.6,109.55 L762.36,110.46 L762.09,111.4 L761.79,112.4 L761.44,113.48 L761.05,114.67 L760.6,116 L760.07,117.52 L759.44,119.25 L758.74,121.1 L758.01,123.03 L757.28,124.96 L756.58,126.84 L755.94,128.61 L755.4,130.2 L754.94,131.64 L754.52,132.99 L754.15,134.26 L753.81,135.46 L753.51,136.6 L753.25,137.68 L753.01,138.71 L752.8,139.7 L752.62,140.62 L752.48,141.45 L752.38,142.21 L752.3,142.92 L752.25,143.6 L752.22,144.28 L752.2,144.97 L752.2,145.7 L752.2,146.43 L752.22,147.12 L752.25,147.8 L752.3,148.48 L752.38,149.19 L752.48,149.95 L752.62,150.78 L752.8,151.7 L753.01,152.69 L753.25,153.72 L753.51,154.8 L753.81,155.94 L754.15,157.14 L754.52,158.41 L754.94,159.76 L755.4,161.2 L755.94,162.79 L756.58,164.56 L757.28,166.44 L758.01,168.38 L758.74,170.3 L759.44,172.15 L760.07,173.88 L760.6,175.4 L761.05,176.73 L761.44,177.92 L761.79,179 L762.09,180 L762.36,180.94 L762.6,181.85 L762.81,182.77 L763,183.7 L763.17,184.64 L763.3,185.55 L763.41,186.43 L763.48,187.3 L763.53,188.15 L763.55,189 L763.54,189.85 L763.5,190.7 L763.44,191.56 L763.36,192.44 L763.25,193.32 L763.12,194.19 L762.95,195.04 L762.74,195.87 L762.49,196.66 L762.2,197.4 L761.87,198.1 L761.52,198.78 L761.13,199.43 L760.71,200.04 L760.23,200.63 L759.69,201.19 L759.08,201.71 L758.4,202.2 L757.63,202.65 L756.77,203.05 L755.84,203.42 L754.86,203.76 L753.83,204.08 L752.76,204.39 L751.68,204.69 L750.6,205 L749.47,205.29 L748.27,205.56 L747.02,205.81 L745.76,206.05 L744.5,206.3 L743.29,206.57 L742.15,206.86 L741.1,207.2 L740.16,207.57 L739.3,207.96 L738.5,208.36 L737.75,208.79 L737.02,209.25 L736.3,209.73 L735.57,210.25 L734.8,210.8 L734.04,211.39 L733.34,212.02 L732.64,212.68 L731.94,213.37 L731.21,214.09 L730.41,214.82 L729.51,215.56 L728.5,216.3 L727.35,217.08 L726.08,217.91 L724.71,218.77 L723.29,219.64 L721.82,220.49 L720.35,221.3 L718.9,222.05 L717.5,222.7 L716.14,223.27 L714.79,223.8 L713.45,224.27 L712.11,224.69 L710.76,225.06 L709.4,225.39 L708.01,225.67 L706.6,225.9 L705.15,226.07 L703.68,226.17 L702.18,226.21 L700.67,226.21 L699.15,226.19 L697.63,226.15 L696.11,226.11 L694.6,226.1 L693.09,226.11 L691.57,226.15 L690.05,226.19 L688.53,226.21 L687.02,226.21 L685.52,226.17 L684.05,226.07 L682.6,225.9 L681.19,225.67 L679.8,225.39 L678.44,225.06 L677.09,224.69 L675.75,224.27 L674.41,223.8 L673.06,223.27 L671.7,222.7 L670.3,222.05 L668.85,221.3 L667.38,220.49 L665.91,219.64 L664.49,218.77 L663.12,217.91 L661.85,217.08 L660.7,216.3 L659.69,215.56 L658.79,214.82 L657.99,214.09 L657.26,213.37 L656.56,212.68 L655.86,212.02 L655.16,211.39 L654.4,210.8 L653.63,210.25 L652.9,209.73 L652.18,209.25 L651.45,208.79 L650.7,208.36 L649.9,207.96 L649.04,207.57 L648.1,207.2 L647.05,206.86 L645.91,206.57 L644.7,206.3 L643.44,206.05 L642.18,205.81 L640.93,205.56 L639.73,205.29 L638.6,205 L637.52,204.69 L636.44,204.39 L635.37,204.08 L634.34,203.76 L633.36,203.42 L632.43,203.05 L631.57,202.65 L630.8,202.2 L630.12,201.71 L629.51,201.19 L628.97,200.63 L628.49,200.04 L628.07,199.43 L627.68,198.78 L627.33,198.1 L627,197.4 L626.71,196.66 L626.46,195.87 L626.25,195.04 L626.08,194.19 L625.95,193.32 L625.84,192.44 L625.76,191.56 L625.7,190.7 L625.66,189.85 L625.65,189 L625.67,188.15 L625.72,187.3 L625.79,186.43 L625.9,185.55 L626.03,184.64 L626.2,183.7 L626.39,182.77 L626.6,181.85 L626.84,180.94 L627.11,180 L627.41,179 L627.76,177.92 L628.15,176.73 L628.6,175.4 L629.13,173.88 L629.76,172.15 L630.46,170.3 L631.19,168.37 L631.92,166.44 L632.62,164.56 L633.26,162.79 L633.8,161.2 L634.26,159.76 L634.68,158.41 L635.05,157.14 L635.39,155.94 L635.69,154.8 L635.95,153.72 L636.19,152.69 L636.4,151.7 L636.58,150.78 L636.72,149.95 L636.82,149.19 L636.9,148.48 L636.95,147.8 L636.98,147.12 L637,146.43 L637,145.7 L637,144.97 L636.98,144.28 L636.95,143.6 L636.9,142.92 L636.82,142.21 L636.72,141.45 L636.58,140.62 L636.4,139.7 L636.19,138.71 L635.95,137.68 L635.69,136.6 L635.39,135.46 L635.05,134.26 L634.68,132.99 L634.26,131.64 L633.8,130.2 L633.26,128.61 L632.62,126.84 L631.92,124.96 L631.19,123.02 L630.46,121.1 L629.76,119.25 L629.13,117.52 L628.6,116 L628.15,114.67 L627.76,113.48 L627.41,112.4 L627.11,111.4 L626.84,110.46 L626.6,109.55 L626.39,108.63 L626.2,107.7 L626.03,106.76 L625.9,105.85 L625.79,104.97 L625.72,104.1 L625.67,103.25 L625.65,102.4 L625.66,101.55 L625.7,100.7 L625.76,99.84 L625.84,98.96 L625.95,98.08 L626.08,97.21 L626.25,96.36 L626.46,95.53 L626.71,94.74 L627,94 L627.33,93.3 L627.68,92.62 L628.07,91.97 L628.49,91.36 L628.97,90.77 L629.51,90.21 L630.12,89.69 L630.8,89.2 L631.57,88.75 L632.43,88.35 L633.36,87.98 L634.34,87.64 L635.37,87.32 L636.44,87.01 L637.52,86.71 L638.6,86.4 L639.73,86.11 L640.93,85.84 L642.18,85.59 L643.44,85.35 L644.7,85.1 L645.91,84.83 L647.05,84.54 L648.1,84.2 L649.04,83.83 L649.9,83.44 L650.7,83.04 L651.45,82.61 L652.18,82.15 L652.9,81.67 L653.63,81.15 L654.4,80.6 L655.16,80.01 L655.86,79.38 L656.56,78.72 L657.26,78.02 L657.99,77.31 L658.79,76.58 L659.69,75.84 L660.7,75.1 L661.85,74.32 L663.12,73.49 L664.49,72.63 L665.91,71.76 L667.38,70.91 L668.85,70.1 L670.3,69.35 L671.7,68.7 L673.06,68.13 L674.41,67.6 L675.75,67.13 L677.09,66.71 L678.44,66.34 L679.8,66.01 L681.19,65.73 L682.6,65.5 L684.05,65.33 L685.52,65.23 L687.02,65.19 L688.53,65.19 L690.05,65.21 L691.57,65.25 L693.09,65.29Z" fill="none" stroke="#7cb848" stroke-width="1.7"/>
<path d="M694.6,56.8 L695.48,56.8 L696.36,56.79 L697.25,56.78 L698.14,56.77 L699.02,56.77 L699.89,56.77 L700.75,56.78 L701.6,56.8 L702.38,56.8 L703.06,56.76 L703.7,56.71 L704.35,56.67 L705.06,56.68 L705.87,56.75 L706.83,56.92 L708,57.2 L709.43,57.59 L711.11,58.04 L712.96,58.57 L714.91,59.18 L716.88,59.87 L718.8,60.63 L720.6,61.47 L722.2,62.4 L723.6,63.46 L724.89,64.67 L726.07,65.99 L727.19,67.38 L728.28,68.79 L729.36,70.17 L730.45,71.49 L731.6,72.7 L732.77,73.83 L733.93,74.94 L735.09,76.01 L736.25,77.05 L737.42,78.04 L738.62,78.96 L739.84,79.82 L741.1,80.6 L742.42,81.27 L743.8,81.84 L745.22,82.32 L746.65,82.75 L748.08,83.15 L749.48,83.56 L750.82,84 L752.1,84.5 L753.33,85.03 L754.55,85.54 L755.74,86.06 L756.89,86.6 L757.99,87.17 L759.02,87.78 L759.96,88.45 L760.8,89.2 L761.54,90.03 L762.19,90.95 L762.75,91.93 L763.24,92.95 L763.68,94 L764.06,95.05 L764.39,96.09 L764.7,97.1 L764.98,98.07 L765.21,99 L765.4,99.93 L765.54,100.86 L765.62,101.81 L765.65,102.81 L765.61,103.86 L765.5,105 L765.32,106.2 L765.06,107.46 L764.73,108.76 L764.34,110.11 L763.91,111.5 L763.44,112.95 L762.93,114.45 L762.4,116 L761.81,117.65 L761.14,119.44 L760.41,121.3 L759.66,123.19 L758.9,125.08 L758.17,126.91 L757.49,128.63 L756.9,130.2 L756.37,131.64 L755.88,132.99 L755.43,134.26 L755.01,135.46 L754.62,136.6 L754.28,137.68 L753.97,138.71 L753.7,139.7 L753.47,140.62 L753.29,141.45 L753.15,142.21 L753.05,142.92 L752.98,143.6 L752.93,144.28 L752.91,144.97 L752.9,145.7 L752.91,146.43 L752.93,147.12 L752.98,147.8 L753.05,148.48 L753.15,149.19 L753.29,149.95 L753.47,150.78 L753.7,151.7 L753.97,152.69 L754.28,153.72 L754.62,154.8 L755.01,155.94 L755.43,157.14 L755.88,158.41 L756.37,159.76 L756.9,161.2 L757.49,162.77 L758.17,164.49 L758.9,166.32 L759.66,168.21 L760.41,170.1 L761.14,171.96 L761.81,173.75 L762.4,175.4 L762.93,176.95 L763.44,178.45 L763.91,179.9 L764.34,181.29 L764.73,182.64 L765.06,183.94 L765.32,185.2 L765.5,186.4 L765.61,187.54 L765.65,188.59 L765.62,189.59 L765.54,190.54 L765.4,191.47 L765.21,192.4 L764.98,193.33 L764.7,194.3 L764.39,195.31 L764.06,196.35 L763.68,197.4 L763.24,198.45 L762.75,199.47 L762.19,200.45 L761.54,201.37 L760.8,202.2 L759.96,202.95 L759.02,203.62 L757.99,204.23 L756.89,204.8 L755.74,205.34 L754.55,205.86 L753.33,206.37 L752.1,206.9 L750.82,207.4 L749.48,207.84 L748.08,208.25 L746.65,208.65 L745.22,209.08 L743.8,209.56 L742.42,210.13 L741.1,210.8 L739.84,211.58 L738.62,212.44 L737.42,213.36 L736.25,214.35 L735.09,215.39 L733.93,216.46 L732.77,217.57 L731.6,218.7 L730.45,219.91 L729.36,221.23 L728.28,222.61 L727.19,224.02 L726.07,225.41 L724.89,226.73 L723.6,227.94 L722.2,229 L720.6,229.93 L718.8,230.77 L716.88,231.53 L714.91,232.22 L712.96,232.83 L711.11,233.36 L709.43,233.81 L708,234.2 L706.83,234.48 L705.87,234.65 L705.06,234.72 L704.35,234.72 L703.7,234.69 L703.06,234.64 L702.38,234.6 L701.6,234.6 L700.75,234.62 L699.89,234.63 L699.02,234.63 L698.14,234.62 L697.25,234.62 L696.36,234.61 L695.48,234.6 L694.6,234.6 L693.72,234.6 L692.84,234.61 L691.95,234.62 L691.06,234.62 L690.18,234.63 L689.31,234.63 L688.45,234.62 L687.6,234.6 L686.82,234.6 L686.14,234.64 L685.5,234.69 L684.85,234.72 L684.14,234.72 L683.33,234.65 L682.37,234.48 L681.2,234.2 L679.77,233.81 L678.09,233.36 L676.24,232.83 L674.29,232.22 L672.32,231.53 L670.4,230.77 L668.6,229.93 L667,229 L665.6,227.94 L664.31,226.73 L663.13,225.41 L662.01,224.02 L660.92,222.61 L659.84,221.23 L658.75,219.91 L657.6,218.7 L656.43,217.57 L655.27,216.46 L654.11,215.39 L652.95,214.35 L651.78,213.36 L650.58,212.44 L649.36,211.58 L648.1,210.8 L646.78,210.13 L645.4,209.56 L643.98,209.08 L642.55,208.65 L641.12,208.25 L639.72,207.84 L638.38,207.4 L637.1,206.9 L635.87,206.37 L634.65,205.86 L633.46,205.34 L632.31,204.8 L631.21,204.23 L630.18,203.62 L629.24,202.95 L628.4,202.2 L627.66,201.37 L627.01,200.45 L626.45,199.47 L625.96,198.45 L625.52,197.4 L625.14,196.35 L624.81,195.31 L624.5,194.3 L624.23,193.33 L623.99,192.4 L623.8,191.47 L623.66,190.54 L623.58,189.59 L623.55,188.59 L623.59,187.54 L623.7,186.4 L623.88,185.2 L624.14,183.94 L624.47,182.64 L624.86,181.29 L625.29,179.9 L625.76,178.45 L626.27,176.95 L626.8,175.4 L627.39,173.75 L628.06,171.96 L628.79,170.1 L629.54,168.21 L630.3,166.32 L631.03,164.49 L631.71,162.77 L632.3,161.2 L632.83,159.76 L633.32,158.41 L633.77,157.14 L634.19,155.94 L634.58,154.8 L634.92,153.72 L635.23,152.69 L635.5,151.7 L635.73,150.78 L635.91,149.95 L636.05,149.19 L636.15,148.48 L636.22,147.8 L636.27,147.12 L636.29,146.43 L636.3,145.7 L636.29,144.97 L636.27,144.28 L636.22,143.6 L636.15,142.92 L636.05,142.21 L635.91,141.45 L635.73,140.62 L635.5,139.7 L635.23,138.71 L634.92,137.68 L634.58,136.6 L634.19,135.46 L633.77,134.26 L633.32,132.99 L632.83,131.64 L632.3,130.2 L631.71,128.63 L631.03,126.91 L630.3,125.08 L629.54,123.19 L628.79,121.3 L628.06,119.44 L627.39,117.65 L626.8,116 L626.27,114.45 L625.76,112.95 L625.29,111.5 L624.86,110.11 L624.47,108.76 L624.14,107.46 L623.88,106.2 L623.7,105 L623.59,103.86 L623.55,102.81 L623.58,101.81 L623.66,100.86 L623.8,99.93 L623.99,99 L624.23,98.07 L624.5,97.1 L624.81,96.09 L625.14,95.05 L625.52,94 L625.96,92.95 L626.45,91.93 L627.01,90.95 L627.66,90.03 L628.4,89.2 L629.24,88.45 L630.18,87.78 L631.21,87.17 L632.31,86.6 L633.46,86.06 L634.65,85.54 L635.87,85.03 L637.1,84.5 L638.38,84 L639.72,83.56 L641.12,83.15 L642.55,82.75 L643.98,82.32 L645.4,81.84 L646.78,81.27 L648.1,80.6 L649.36,79.82 L650.58,78.96 L651.78,78.04 L652.95,77.05 L654.11,76.01 L655.27,74.94 L656.43,73.83 L657.6,72.7 L658.75,71.49 L659.84,70.17 L660.92,68.79 L662.01,67.38 L663.13,65.99 L664.31,64.67 L665.6,63.46 L667,62.4 L668.6,61.47 L670.4,60.63 L672.32,59.87 L674.29,59.18 L676.24,58.57 L678.09,58.04 L679.77,57.59 L681.2,57.2 L682.37,56.92 L683.33,56.75 L684.14,56.68 L684.85,56.67 L685.5,56.71 L686.14,56.76 L686.82,56.8 L687.6,56.8 L688.45,56.78 L689.31,56.77 L690.18,56.77 L691.06,56.77 L691.95,56.78 L692.84,56.79 L693.72,56.8Z" fill="none" stroke="#e6b421" stroke-width="1.7"/>
<path d="M694.6,77.5 L696.47,77.52 L698.33,77.57 L700.19,77.66 L702.06,77.76 L703.92,77.89 L705.8,78.02 L707.69,78.16 L709.6,78.3 L711.57,78.44 L713.62,78.58 L715.71,78.72 L717.79,78.88 L719.84,79.05 L721.79,79.24 L723.63,79.46 L725.3,79.7 L726.81,79.96 L728.19,80.22 L729.46,80.49 L730.64,80.79 L731.74,81.13 L732.8,81.5 L733.81,81.92 L734.8,82.4 L735.75,82.93 L736.64,83.49 L737.47,84.09 L738.25,84.74 L739,85.44 L739.71,86.2 L740.41,87.02 L741.1,87.9 L741.77,88.86 L742.4,89.9 L743.01,91 L743.59,92.15 L744.16,93.35 L744.71,94.58 L745.26,95.83 L745.8,97.1 L746.35,98.39 L746.89,99.71 L747.43,101.06 L747.95,102.44 L748.46,103.84 L748.94,105.27 L749.39,106.73 L749.8,108.2 L750.18,109.7 L750.52,111.24 L750.83,112.82 L751.12,114.41 L751.39,116.01 L751.64,117.61 L751.87,119.21 L752.1,120.8 L752.32,122.38 L752.52,123.96 L752.7,125.54 L752.87,127.12 L753.02,128.7 L753.16,130.27 L753.29,131.84 L753.4,133.4 L753.5,134.95 L753.58,136.5 L753.65,138.03 L753.71,139.57 L753.75,141.1 L753.78,142.63 L753.79,144.16 L753.8,145.7 L753.79,147.24 L753.78,148.77 L753.75,150.3 L753.71,151.83 L753.65,153.37 L753.58,154.9 L753.5,156.45 L753.4,158 L753.29,159.56 L753.16,161.13 L753.02,162.7 L752.87,164.28 L752.7,165.86 L752.52,167.44 L752.32,169.02 L752.1,170.6 L751.87,172.19 L751.64,173.79 L751.39,175.39 L751.12,176.99 L750.83,178.58 L750.52,180.16 L750.18,181.7 L749.8,183.2 L749.39,184.67 L748.94,186.12 L748.46,187.56 L747.95,188.96 L747.43,190.34 L746.89,191.69 L746.35,193.01 L745.8,194.3 L745.26,195.57 L744.71,196.82 L744.16,198.05 L743.59,199.25 L743.01,200.4 L742.4,201.5 L741.77,202.54 L741.1,203.5 L740.41,204.38 L739.71,205.2 L739,205.96 L738.25,206.66 L737.47,207.31 L736.64,207.91 L735.75,208.47 L734.8,209 L733.81,209.48 L732.8,209.9 L731.74,210.27 L730.64,210.61 L729.46,210.91 L728.19,211.18 L726.81,211.44 L725.3,211.7 L723.63,211.94 L721.79,212.16 L719.84,212.35 L717.79,212.52 L715.71,212.68 L713.62,212.82 L711.57,212.96 L709.6,213.1 L707.69,213.24 L705.8,213.38 L703.92,213.51 L702.06,213.64 L700.19,213.74 L698.33,213.83 L696.47,213.88 L694.6,213.9 L692.73,213.88 L690.87,213.83 L689.01,213.74 L687.14,213.64 L685.28,213.51 L683.4,213.38 L681.51,213.24 L679.6,213.1 L677.63,212.96 L675.58,212.82 L673.49,212.68 L671.41,212.52 L669.36,212.35 L667.41,212.16 L665.57,211.94 L663.9,211.7 L662.39,211.44 L661.01,211.18 L659.74,210.91 L658.56,210.61 L657.46,210.27 L656.4,209.9 L655.39,209.48 L654.4,209 L653.45,208.47 L652.56,207.91 L651.73,207.31 L650.95,206.66 L650.2,205.96 L649.49,205.2 L648.79,204.38 L648.1,203.5 L647.43,202.54 L646.8,201.5 L646.19,200.4 L645.61,199.25 L645.04,198.05 L644.49,196.82 L643.94,195.57 L643.4,194.3 L642.85,193.01 L642.31,191.69 L641.77,190.34 L641.25,188.96 L640.74,187.56 L640.26,186.13 L639.81,184.67 L639.4,183.2 L639.02,181.7 L638.68,180.16 L638.37,178.58 L638.08,176.99 L637.81,175.39 L637.56,173.79 L637.33,172.19 L637.1,170.6 L636.88,169.02 L636.68,167.44 L636.5,165.86 L636.33,164.28 L636.18,162.7 L636.04,161.13 L635.91,159.56 L635.8,158 L635.7,156.45 L635.62,154.9 L635.55,153.37 L635.49,151.83 L635.45,150.3 L635.42,148.77 L635.41,147.24 L635.4,145.7 L635.41,144.16 L635.42,142.63 L635.45,141.1 L635.49,139.57 L635.55,138.03 L635.62,136.5 L635.7,134.95 L635.8,133.4 L635.91,131.84 L636.04,130.27 L636.18,128.7 L636.33,127.12 L636.5,125.54 L636.68,123.96 L636.88,122.38 L637.1,120.8 L637.33,119.21 L637.56,117.61 L637.81,116.01 L638.08,114.41 L638.37,112.82 L638.68,111.24 L639.02,109.7 L639.4,108.2 L639.81,106.73 L640.26,105.27 L640.74,103.84 L641.25,102.44 L641.77,101.06 L642.31,99.71 L642.85,98.39 L643.4,97.1 L643.94,95.83 L644.49,94.58 L645.04,93.35 L645.61,92.15 L646.19,91 L646.8,89.9 L647.43,88.86 L648.1,87.9 L648.79,87.02 L649.49,86.2 L650.2,85.44 L650.95,84.74 L651.73,84.09 L652.56,83.49 L653.45,82.93 L654.4,82.4 L655.39,81.92 L656.4,81.5 L657.46,81.13 L658.56,80.79 L659.74,80.49 L661.01,80.22 L662.39,79.96 L663.9,79.7 L665.57,79.46 L667.41,79.24 L669.36,79.05 L671.41,78.88 L673.49,78.72 L675.58,78.58 L677.63,78.44 L679.6,78.3 L681.51,78.16 L683.4,78.02 L685.28,77.89 L687.14,77.76 L689.01,77.66 L690.87,77.57 L692.73,77.52Z" fill="none" stroke="#1a9a66" stroke-width="1.7"/>
<rect x="536" y="41" width="317.4" height="210.4" fill="none" stroke="#333" stroke-width="1.4"/>
<circle cx="694.6" cy="145.7" r="3" fill="#000"/><circle cx="694.6" cy="41" r="3" fill="#000"/><circle cx="536" cy="145.7" r="3" fill="#000"/>
<text x="701" y="146" font-size="25">Γ</text>
<text x="679" y="38.5" font-size="28" font-style="italic">K</text>
<text x="543" y="158" font-size="26" font-style="italic">A</text>
<text x="498.5" y="156" font-size="28.5" font-style="italic">k<tspan font-size="20.5" dy="7">a</tspan></text>
<text x="665" y="285" font-size="29" font-style="italic">k<tspan font-size="21" dy="7">c</tspan></text>
<line x1="514.3" y1="251.5" x2="514.3" y2="180" stroke="#000" stroke-width="3.1"/><path d="M514.3,164.5 L522,190 L514.3,183.5 L506.6,190Z" fill="#000"/>
<line x1="537" y1="272" x2="638" y2="272" stroke="#000" stroke-width="3.1"/><path d="M654.5,272 L629,264.3 L635.5,272 L629,279.7Z" fill="#000"/>
<text x="849.5" y="67" font-size="20.3" fill="#787878" text-anchor="end">2<tspan font-size="14" dy="4.5">nd</tspan><tspan dy="-4.5"> node</tspan></text>
<text x="849.5" y="114" font-size="20.3" fill="#787878" text-anchor="end">1<tspan font-size="14" dy="4.5">st</tspan><tspan dy="-4.5"> node</tspan></text>
<text transform="translate(588,172) rotate(90)" font-size="19.5" fill="#8fbbe8">1<tspan font-size="10.5" dy="6" dx="1" font-style="italic">st</tspan><tspan dy="-6" dx="3"> node</tspan></text>
<text x="474" y="37.3" font-size="35" font-weight="bold">(c)</text></g>
<g id="panel-d"><clipPath id="dclip"><path d="M855.8,473.3 L775.8,334.74 L615.8,334.74 L535.8,473.3 L615.8,611.86 L775.8,611.86Z"/></clipPath>
<path d="M775.01,488.5 A30.4,30.4 0 0 0 775.01,458.1 L748.57,412.3 A30.4,30.4 0 0 0 722.24,397.1 L669.36,397.1 A30.4,30.4 0 0 0 643.03,412.3 L616.59,458.1 A30.4,30.4 0 0 0 616.59,488.5 L643.03,534.3 A30.4,30.4 0 0 0 669.36,549.5 L722.24,549.5 A30.4,30.4 0 0 0 748.57,534.3Z" fill="none" stroke="#7555a8" stroke-width="1.4"/>
<path d="M782.81,487.8 A29,29 0 0 0 782.81,458.8 L751.86,405.2 A29,29 0 0 0 726.75,390.7 L664.85,390.7 A29,29 0 0 0 639.74,405.2 L608.79,458.8 A29,29 0 0 0 608.79,487.8 L639.74,541.4 A29,29 0 0 0 664.85,555.9 L726.75,555.9 A29,29 0 0 0 751.86,541.4Z" fill="none" stroke="#2f78b4" stroke-width="1.4"/>
<path d="M798.2,456.09 A72.6,72.6 0 0 0 761.9,393.22 L732.1,376.02 A72.6,72.6 0 0 0 659.5,376.02 L629.7,393.22 A72.6,72.6 0 0 0 593.4,456.09 L593.4,490.51 A72.6,72.6 0 0 0 629.7,553.38 L659.5,570.58 A72.6,72.6 0 0 0 732.1,570.58 L761.9,553.38 A72.6,72.6 0 0 0 798.2,490.51Z" fill="none" stroke="#1a9468" stroke-width="2.4"/>
<path d="M840,445.93 C808.39,464.18 808.39,482.42 840,500.67 M744.2,334.74 C744.2,371.24 759.99,380.35 791.6,362.1 M600,362.1 C631.61,380.35 647.4,371.24 647.4,334.74 M551.6,500.67 C583.21,482.42 583.21,464.18 551.6,445.93 M647.4,611.86 C647.4,575.36 631.61,566.25 600,584.5 M791.6,584.5 C759.99,566.25 744.2,575.36 744.2,611.86" fill="none" stroke="#7dba4c" stroke-width="1.5"/>
<path d="M844.9,454.42 C822.9,467.12 822.9,479.48 844.9,492.18 M754,334.74 C754,360.14 764.7,366.32 786.7,353.62 M604.9,353.62 C626.9,366.32 637.6,360.14 637.6,334.74 M546.7,492.18 C568.7,479.48 568.7,467.12 546.7,454.42 M637.6,611.86 C637.6,586.46 626.9,580.28 604.9,592.98 M786.7,592.98 C764.7,580.28 754,586.46 754,611.86" fill="none" stroke="#f0b71d" stroke-width="1.5"/>
<path d="M855.8,473.3 L775.8,334.74 L615.8,334.74 L535.8,473.3 L615.8,611.86 L775.8,611.86Z" fill="none" stroke="#222" stroke-width="1.4" stroke-linejoin="miter"/>
<circle cx="695.8" cy="473.3" r="3" fill="#000"/>
<circle cx="576.3" cy="542.3" r="3" fill="#000"/><circle cx="615.8" cy="611.86" r="3" fill="#000"/>
<text x="702" y="465" font-size="25">Γ</text>
<text x="573.5" y="534.5" font-size="27" font-style="italic">M</text>
<text x="620.5" y="609.5" font-size="27.5" font-style="italic">K</text>
<text x="480.5" y="329" font-size="35" font-weight="bold">(d)</text></g>
<g id="panel-e"><rect x="958.5" y="10.7" width="633.2" height="596.3" fill="none" stroke="#111" stroke-width="2"/>
<clipPath id="eclip"><rect x="958.5" y="10.7" width="633.2" height="597.5"/></clipPath>
<g clip-path="url(#eclip)">
<path d="M1000,607 L1001.82,607 L1003.65,607 L1005.47,607 L1007.29,607 L1009.11,607 L1010.94,607 L1012.76,607 L1014.58,607 L1016.4,607 L1018.23,607 L1020.05,607 L1021.87,607 L1023.7,607 L1025.52,607 L1027.34,607 L1029.16,607 L1030.99,607 L1032.81,607 L1034.63,607 L1036.45,607 L1038.28,607 L1040.1,607 L1041.92,607 L1043.75,607 L1045.57,607 L1047.39,607 L1049.21,607 L1051.04,607 L1052.86,607 L1054.68,607 L1056.51,607 L1058.33,607 L1060.15,607 L1061.97,607 L1063.8,607 L1065.62,607 L1067.44,607 L1069.26,607 L1071.09,607 L1072.91,607 L1074.73,607 L1076.56,607 L1078.38,607 L1080.2,607 L1082.02,607 L1083.85,607 L1085.67,607 L1087.49,607 L1089.31,607 L1091.14,607 L1092.96,607 L1094.78,607 L1096.61,607 L1098.43,607 L1100.25,607 L1102.07,607 L1103.9,607 L1105.72,607 L1107.54,607 L1109.36,607 L1111.19,607 L1113.01,607 L1114.83,607 L1116.66,607 L1118.48,607 L1120.3,607 L1122.12,607 L1123.95,607 L1125.77,607 L1127.59,607 L1129.41,607 L1131.24,607 L1133.06,607 L1134.88,607 L1136.71,607 L1138.53,607 L1140.35,607 L1142.17,607 L1144,607 L1145.82,607 L1147.64,607 L1149.46,607 L1151.29,607 L1153.11,607 L1154.93,607 L1156.76,607 L1158.58,607 L1160.4,607 L1162.22,607 L1164.05,607 L1165.87,607 L1167.69,607 L1169.52,607 L1171.34,607 L1173.16,607 L1174.98,607 L1176.81,607 L1178.63,607 L1180.45,606.99 L1182.27,606.99 L1184.1,606.99 L1185.92,606.99 L1187.74,606.99 L1189.57,606.99 L1191.39,606.99 L1193.21,606.98 L1195.03,606.98 L1196.86,606.98 L1198.68,606.98 L1200.5,606.97 L1202.32,606.97 L1204.15,606.97 L1205.97,606.96 L1207.79,606.96 L1209.62,606.95 L1211.44,606.94 L1213.26,606.94 L1215.08,606.93 L1216.91,606.92 L1218.73,606.91 L1220.55,606.9 L1222.37,606.89 L1224.2,606.87 L1226.02,606.86 L1227.84,606.84 L1229.67,606.83 L1231.49,606.81 L1233.31,606.79 L1235.13,606.77 L1236.96,606.74 L1238.78,606.72 L1240.6,606.69 L1242.42,606.66 L1244.25,606.62 L1246.07,606.59 L1247.89,606.55 L1249.72,606.5 L1251.54,606.46 L1253.36,606.41 L1255.18,606.36 L1257.01,606.3 L1258.83,606.24 L1260.65,606.17 L1262.47,606.1 L1264.3,606.02 L1266.12,605.94 L1267.94,605.85 L1269.77,605.75 L1271.59,605.65 L1273.41,605.55 L1275.23,605.43 L1277.06,605.31 L1278.88,605.18 L1280.7,605.04 L1282.53,604.89 L1284.35,604.73 L1286.17,604.57 L1287.99,604.39 L1289.82,604.2 L1291.64,604 L1293.46,603.79 L1295.28,603.57 L1297.11,603.33 L1298.93,603.08 L1300.75,602.82 L1302.58,602.54 L1304.4,602.25 L1306.22,601.94 L1308.04,601.61 L1309.87,601.27 L1311.69,600.91 L1313.51,600.52 L1315.33,600.12 L1317.16,599.7 L1318.98,599.26 L1320.8,598.8 L1322.63,598.31 L1324.45,597.81 L1326.27,597.27 L1328.09,596.71 L1329.92,596.13 L1331.74,595.52 L1333.56,594.88 L1335.38,594.21 L1337.21,593.51 L1339.03,592.78 L1340.85,592.02 L1342.68,591.22 L1344.5,590.39 L1346.32,589.53 L1348.14,588.63 L1349.97,587.69 L1351.79,586.72 L1353.61,585.7 L1355.43,584.64 L1357.26,583.55 L1359.08,582.4 L1360.9,581.22 L1362.73,579.99 L1364.55,578.71 L1366.37,577.38 L1368.19,576 L1370.02,574.58 L1371.84,573.1 L1373.66,571.56 L1375.48,569.97 L1377.31,568.33 L1379.13,566.63 L1380.95,564.86 L1382.78,563.04 L1384.6,561.15 L1386.42,559.21 L1388.24,557.19 L1390.07,555.11 L1391.89,552.96 L1393.71,550.74 L1395.54,548.45 L1397.36,546.09 L1399.18,543.65 L1401,541.13 L1402.83,538.54 L1404.65,535.87 L1406.47,533.11 L1408.29,530.28 L1410.12,527.35 L1411.94,524.35 L1413.76,521.25 L1415.59,518.06 L1417.41,514.79 L1419.23,511.42 L1421.05,507.95 L1422.88,504.39 L1424.7,500.72 L1426.52,496.96 L1428.34,493.1 L1430.17,489.13 L1431.99,485.05 L1433.81,480.87 L1435.64,476.57 L1437.46,472.17 L1439.28,467.65 L1441.1,463.01 L1442.93,458.26 L1444.75,453.39 L1446.57,448.39 L1448.39,443.28 L1450.22,438.04 L1452.04,432.67 L1453.86,427.17 L1455.69,421.54 L1457.51,415.78 L1459.33,409.88 L1461.15,403.84 L1462.98,397.67 L1464.8,391.35 L1466.62,384.89 L1468.44,378.29 L1470.27,371.54 L1472.09,364.64 L1473.91,357.59 L1475.74,350.38 L1477.56,343.02 L1479.38,335.51 L1481.2,327.83 L1483.03,319.99 L1484.85,311.99 L1486.67,303.82 L1488.49,295.49 L1490.32,286.98 L1492.14,278.31 L1493.96,269.46 L1495.79,260.43 L1497.61,251.23 L1499.43,241.85 L1501.25,232.28 L1503.08,222.53 L1504.9,212.6 L1506.72,202.47 L1508.55,192.16 L1510.37,181.65 L1512.19,170.95 L1514.01,160.06 L1515.84,148.96 L1517.66,137.67 L1519.48,126.17 L1521.3,114.47 L1523.13,102.56 L1524.95,90.44 L1526.77,78.12 L1528.6,65.58 L1530.42,52.82 L1532.24,39.85 L1534.06,26.66 L1535.89,13.25 L1537.71,-0.38 L1539.53,-14.24 L1541.35,-28.32 L1543.18,-42.64 L1545,-57.18" fill="none" stroke="#d6101a" stroke-width="4.6"/>
<path d="M958,607 L960.83,606.99 L963.66,606.97 L966.5,606.92 L969.33,606.86 L972.16,606.77 L974.99,606.67 L977.82,606.54 L980.66,606.4 L983.49,606.24 L986.32,606.05 L989.15,605.85 L991.98,605.63 L994.82,605.39 L997.65,605.13 L1000.48,604.85 L1003.31,604.55 L1006.14,604.23 L1008.97,603.89 L1011.81,603.53 L1014.64,603.15 L1017.47,602.75 L1020.3,602.33 L1023.13,601.9 L1025.97,601.44 L1028.8,600.96 L1031.63,600.47 L1034.46,599.95 L1037.29,599.42 L1040.13,598.86 L1042.96,598.29 L1045.79,597.69 L1048.62,597.08 L1051.45,596.45 L1054.29,595.79 L1057.12,595.12 L1059.95,594.43 L1062.78,593.72 L1065.61,592.99 L1068.45,592.23 L1071.28,591.46 L1074.11,590.67 L1076.94,589.86 L1079.77,589.03 L1082.61,588.19 L1085.44,587.32 L1088.27,586.43 L1091.1,585.52 L1093.93,584.59 L1096.76,583.65 L1099.6,582.68 L1102.43,581.7 L1105.26,580.69 L1108.09,579.66 L1110.92,578.62 L1113.76,577.56 L1116.59,576.47 L1119.42,575.37 L1122.25,574.25 L1125.08,573.1 L1127.92,571.94 L1130.75,570.76 L1133.58,569.56 L1136.41,568.34 L1139.24,567.09 L1142.08,565.83 L1144.91,564.55 L1147.74,563.26 L1150.57,561.94 L1153.4,560.6 L1156.24,559.24 L1159.07,557.86 L1161.9,556.46 L1164.73,555.05 L1167.56,553.61 L1170.39,552.15 L1173.23,550.68 L1176.06,549.18 L1178.89,547.67 L1181.72,546.13 L1184.55,544.58 L1187.39,543.01 L1190.22,541.41 L1193.05,539.8 L1195.88,538.17 L1198.71,536.51 L1201.55,534.84 L1204.38,533.15 L1207.21,531.44 L1210.04,529.71 L1212.87,527.96 L1215.71,526.19 L1218.54,524.4 L1221.37,522.59 L1224.2,520.76 L1227.03,518.92 L1229.87,517.05 L1232.7,515.16 L1235.53,513.25 L1238.36,511.33 L1241.19,509.38 L1244.03,507.42 L1246.86,505.43 L1249.69,503.43 L1252.52,501.4 L1255.35,499.36 L1258.18,497.29 L1261.02,495.21 L1263.85,493.11 L1266.68,490.99 L1269.51,488.84 L1272.34,486.68 L1275.18,484.5 L1278.01,482.3 L1280.84,480.08 L1283.67,477.84 L1286.5,475.58 L1289.34,473.3 L1292.17,471 L1295,468.68 L1295.66,466.9 L1296.94,466.4 L1298.39,465.77 L1300,465 L1301.83,464.05 L1303.9,462.93 L1306.17,461.67 L1308.59,460.3 L1311.12,458.85 L1313.73,457.35 L1316.36,455.82 L1318.98,454.3 L1321.54,452.82 L1324,451.4 L1326.4,450 L1328.8,448.57 L1331.2,447.11 L1333.6,445.64 L1336,444.18 L1338.4,442.74 L1340.8,441.34 L1343.2,439.99 L1345.6,438.71 L1348,437.5 L1350.42,436.35 L1352.88,435.24 L1355.35,434.16 L1357.83,433.13 L1360.29,432.14 L1362.74,431.22 L1365.15,430.35 L1367.5,429.56 L1369.79,428.84 L1372,428.2 L1374.1,427.63 L1376.08,427.12 L1377.98,426.66 L1379.83,426.27 L1381.64,425.95 L1383.46,425.71 L1385.31,425.54 L1387.21,425.47 L1389.2,425.49 L1391.3,425.6 L1393.54,425.81 L1395.89,426.1 L1398.33,426.47 L1400.83,426.94 L1403.36,427.48 L1405.88,428.11 L1408.38,428.83 L1410.82,429.63 L1413.17,430.52 L1415.4,431.5 L1417.54,432.59 L1419.63,433.79 L1421.67,435.11 L1423.66,436.51 L1425.61,437.99 L1427.5,439.54 L1429.35,441.12 L1431.15,442.74 L1432.9,444.37 L1434.6,446 L1436.23,447.62 L1437.79,449.25 L1439.27,450.89 L1440.7,452.56 L1442.09,454.28 L1443.46,456.06 L1444.82,457.9 L1446.19,459.83 L1447.58,461.86 L1449,464 L1450.46,466.24 L1451.93,468.58 L1453.42,470.99 L1454.91,473.49 L1456.4,476.06 L1457.88,478.71 L1459.33,481.43 L1460.76,484.22 L1462.15,487.08 L1463.5,490 L1464.81,493.01 L1466.1,496.14 L1467.36,499.35 L1468.6,502.65 L1469.81,506 L1471,509.39 L1472.16,512.81 L1473.3,516.22 L1474.41,519.63 L1475.5,523 L1476.56,526.38 L1477.6,529.8 L1478.6,533.25 L1479.59,536.72 L1480.54,540.19 L1481.48,543.64 L1482.39,547.06 L1483.28,550.44 L1484.15,553.76 L1485,557 L1485.83,560.21 L1486.63,563.42 L1487.4,566.61 L1488.16,569.77 L1488.89,572.88 L1489.6,575.91 L1490.3,578.86 L1490.98,581.7 L1491.64,584.42 L1492.3,587 L1492.96,589.5 L1493.63,591.96 L1494.31,594.37 L1494.97,596.68 L1495.61,598.88 L1496.21,600.92 L1496.76,602.78 L1497.25,604.44 L1497.67,605.86 L1498,607 L1498,607 L958,607Z" fill="url(#magfill)"/>
<clipPath id="magclip"><path d="M958,607 L960.83,606.99 L963.66,606.97 L966.5,606.92 L969.33,606.86 L972.16,606.77 L974.99,606.67 L977.82,606.54 L980.66,606.4 L983.49,606.24 L986.32,606.05 L989.15,605.85 L991.98,605.63 L994.82,605.39 L997.65,605.13 L1000.48,604.85 L1003.31,604.55 L1006.14,604.23 L1008.97,603.89 L1011.81,603.53 L1014.64,603.15 L1017.47,602.75 L1020.3,602.33 L1023.13,601.9 L1025.97,601.44 L1028.8,600.96 L1031.63,600.47 L1034.46,599.95 L1037.29,599.42 L1040.13,598.86 L1042.96,598.29 L1045.79,597.69 L1048.62,597.08 L1051.45,596.45 L1054.29,595.79 L1057.12,595.12 L1059.95,594.43 L1062.78,593.72 L1065.61,592.99 L1068.45,592.23 L1071.28,591.46 L1074.11,590.67 L1076.94,589.86 L1079.77,589.03 L1082.61,588.19 L1085.44,587.32 L1088.27,586.43 L1091.1,585.52 L1093.93,584.59 L1096.76,583.65 L1099.6,582.68 L1102.43,581.7 L1105.26,580.69 L1108.09,579.66 L1110.92,578.62 L1113.76,577.56 L1116.59,576.47 L1119.42,575.37 L1122.25,574.25 L1125.08,573.1 L1127.92,571.94 L1130.75,570.76 L1133.58,569.56 L1136.41,568.34 L1139.24,567.09 L1142.08,565.83 L1144.91,564.55 L1147.74,563.26 L1150.57,561.94 L1153.4,560.6 L1156.24,559.24 L1159.07,557.86 L1161.9,556.46 L1164.73,555.05 L1167.56,553.61 L1170.39,552.15 L1173.23,550.68 L1176.06,549.18 L1178.89,547.67 L1181.72,546.13 L1184.55,544.58 L1187.39,543.01 L1190.22,541.41 L1193.05,539.8 L1195.88,538.17 L1198.71,536.51 L1201.55,534.84 L1204.38,533.15 L1207.21,531.44 L1210.04,529.71 L1212.87,527.96 L1215.71,526.19 L1218.54,524.4 L1221.37,522.59 L1224.2,520.76 L1227.03,518.92 L1229.87,517.05 L1232.7,515.16 L1235.53,513.25 L1238.36,511.33 L1241.19,509.38 L1244.03,507.42 L1246.86,505.43 L1249.69,503.43 L1252.52,501.4 L1255.35,499.36 L1258.18,497.29 L1261.02,495.21 L1263.85,493.11 L1266.68,490.99 L1269.51,488.84 L1272.34,486.68 L1275.18,484.5 L1278.01,482.3 L1280.84,480.08 L1283.67,477.84 L1286.5,475.58 L1289.34,473.3 L1292.17,471 L1295,468.68 L1295.66,466.9 L1296.94,466.4 L1298.39,465.77 L1300,465 L1301.83,464.05 L1303.9,462.93 L1306.17,461.67 L1308.59,460.3 L1311.12,458.85 L1313.73,457.35 L1316.36,455.82 L1318.98,454.3 L1321.54,452.82 L1324,451.4 L1326.4,450 L1328.8,448.57 L1331.2,447.11 L1333.6,445.64 L1336,444.18 L1338.4,442.74 L1340.8,441.34 L1343.2,439.99 L1345.6,438.71 L1348,437.5 L1350.42,436.35 L1352.88,435.24 L1355.35,434.16 L1357.83,433.13 L1360.29,432.14 L1362.74,431.22 L1365.15,430.35 L1367.5,429.56 L1369.79,428.84 L1372,428.2 L1374.1,427.63 L1376.08,427.12 L1377.98,426.66 L1379.83,426.27 L1381.64,425.95 L1383.46,425.71 L1385.31,425.54 L1387.21,425.47 L1389.2,425.49 L1391.3,425.6 L1393.54,425.81 L1395.89,426.1 L1398.33,426.47 L1400.83,426.94 L1403.36,427.48 L1405.88,428.11 L1408.38,428.83 L1410.82,429.63 L1413.17,430.52 L1415.4,431.5 L1417.54,432.59 L1419.63,433.79 L1421.67,435.11 L1423.66,436.51 L1425.61,437.99 L1427.5,439.54 L1429.35,441.12 L1431.15,442.74 L1432.9,444.37 L1434.6,446 L1436.23,447.62 L1437.79,449.25 L1439.27,450.89 L1440.7,452.56 L1442.09,454.28 L1443.46,456.06 L1444.82,457.9 L1446.19,459.83 L1447.58,461.86 L1449,464 L1450.46,466.24 L1451.93,468.58 L1453.42,470.99 L1454.91,473.49 L1456.4,476.06 L1457.88,478.71 L1459.33,481.43 L1460.76,484.22 L1462.15,487.08 L1463.5,490 L1464.81,493.01 L1466.1,496.14 L1467.36,499.35 L1468.6,502.65 L1469.81,506 L1471,509.39 L1472.16,512.81 L1473.3,516.22 L1474.41,519.63 L1475.5,523 L1476.56,526.38 L1477.6,529.8 L1478.6,533.25 L1479.59,536.72 L1480.54,540.19 L1481.48,543.64 L1482.39,547.06 L1483.28,550.44 L1484.15,553.76 L1485,557 L1485.83,560.21 L1486.63,563.42 L1487.4,566.61 L1488.16,569.77 L1488.89,572.88 L1489.6,575.91 L1490.3,578.86 L1490.98,581.7 L1491.64,584.42 L1492.3,587 L1492.96,589.5 L1493.63,591.96 L1494.31,594.37 L1494.97,596.68 L1495.61,598.88 L1496.21,600.92 L1496.76,602.78 L1497.25,604.44 L1497.67,605.86 L1498,607 L1498,607 L958,607Z"/></clipPath>
<mask id="fadein" maskUnits="userSpaceOnUse" x="950" y="0" width="650" height="666"><rect x="950" y="0" width="650" height="666" fill="url(#fadeg)"/></mask>
<g mask="url(#fadein)"><path d="M1000,607 L1001.82,607 L1003.65,607 L1005.47,607 L1007.29,607 L1009.11,607 L1010.94,607 L1012.76,607 L1014.58,607 L1016.4,607 L1018.23,607 L1020.05,607 L1021.87,607 L1023.7,607 L1025.52,607 L1027.34,607 L1029.16,607 L1030.99,607 L1032.81,607 L1034.63,607 L1036.45,607 L1038.28,607 L1040.1,607 L1041.92,607 L1043.75,607 L1045.57,607 L1047.39,607 L1049.21,607 L1051.04,607 L1052.86,607 L1054.68,607 L1056.51,607 L1058.33,607 L1060.15,607 L1061.97,607 L1063.8,607 L1065.62,607 L1067.44,607 L1069.26,607 L1071.09,607 L1072.91,607 L1074.73,607 L1076.56,607 L1078.38,607 L1080.2,607 L1082.02,607 L1083.85,607 L1085.67,607 L1087.49,607 L1089.31,607 L1091.14,607 L1092.96,607 L1094.78,607 L1096.61,607 L1098.43,607 L1100.25,607 L1102.07,607 L1103.9,607 L1105.72,607 L1107.54,607 L1109.36,607 L1111.19,607 L1113.01,607 L1114.83,607 L1116.66,607 L1118.48,607 L1120.3,607 L1122.12,607 L1123.95,607 L1125.77,607 L1127.59,607 L1129.41,607 L1131.24,607 L1133.06,607 L1134.88,607 L1136.71,607 L1138.53,607 L1140.35,607 L1142.17,607 L1144,607 L1145.82,607 L1147.64,607 L1149.46,607 L1151.29,607 L1153.11,607 L1154.93,607 L1156.76,607 L1158.58,607 L1160.4,607 L1162.22,607 L1164.05,607 L1165.87,607 L1167.69,607 L1169.52,607 L1171.34,607 L1173.16,607 L1174.98,607 L1176.81,607 L1178.63,607 L1180.45,606.99 L1182.27,606.99 L1184.1,606.99 L1185.92,606.99 L1187.74,606.99 L1189.57,606.99 L1191.39,606.99 L1193.21,606.98 L1195.03,606.98 L1196.86,606.98 L1198.68,606.98 L1200.5,606.97 L1202.32,606.97 L1204.15,606.97 L1205.97,606.96 L1207.79,606.96 L1209.62,606.95 L1211.44,606.94 L1213.26,606.94 L1215.08,606.93 L1216.91,606.92 L1218.73,606.91 L1220.55,606.9 L1222.37,606.89 L1224.2,606.87 L1226.02,606.86 L1227.84,606.84 L1229.67,606.83 L1231.49,606.81 L1233.31,606.79 L1235.13,606.77 L1236.96,606.74 L1238.78,606.72 L1240.6,606.69 L1242.42,606.66 L1244.25,606.62 L1246.07,606.59 L1247.89,606.55 L1249.72,606.5 L1251.54,606.46 L1253.36,606.41 L1255.18,606.36 L1257.01,606.3 L1258.83,606.24 L1260.65,606.17 L1262.47,606.1 L1264.3,606.02 L1266.12,605.94 L1267.94,605.85 L1269.77,605.75 L1271.59,605.65 L1273.41,605.55 L1275.23,605.43 L1277.06,605.31 L1278.88,605.18 L1280.7,605.04 L1282.53,604.89 L1284.35,604.73 L1286.17,604.57 L1287.99,604.39 L1289.82,604.2 L1291.64,604 L1293.46,603.79 L1295.28,603.57 L1297.11,603.33 L1298.93,603.08 L1300.75,602.82 L1302.58,602.54 L1304.4,602.25 L1306.22,601.94 L1308.04,601.61 L1309.87,601.27 L1311.69,600.91 L1313.51,600.52 L1315.33,600.12 L1317.16,599.7 L1318.98,599.26 L1320.8,598.8 L1322.63,598.31 L1324.45,597.81 L1326.27,597.27 L1328.09,596.71 L1329.92,596.13 L1331.74,595.52 L1333.56,594.88 L1335.38,594.21 L1337.21,593.51 L1339.03,592.78 L1340.85,592.02 L1342.68,591.22 L1344.5,590.39 L1346.32,589.53 L1348.14,588.63 L1349.97,587.69 L1351.79,586.72 L1353.61,585.7 L1355.43,584.64 L1357.26,583.55 L1359.08,582.4 L1360.9,581.22 L1362.73,579.99 L1364.55,578.71 L1366.37,577.38 L1368.19,576 L1370.02,574.58 L1371.84,573.1 L1373.66,571.56 L1375.48,569.97 L1377.31,568.33 L1379.13,566.63 L1380.95,564.86 L1382.78,563.04 L1384.6,561.15 L1386.42,559.21 L1388.24,557.19 L1390.07,555.11 L1391.89,552.96 L1393.71,550.74 L1395.54,548.45 L1397.36,546.09 L1399.18,543.65 L1401,541.13 L1402.83,538.54 L1404.65,535.87 L1406.47,533.11 L1408.29,530.28 L1410.12,527.35 L1411.94,524.35 L1413.76,521.25 L1415.59,518.06 L1417.41,514.79 L1419.23,511.42 L1421.05,507.95 L1422.88,504.39 L1424.7,500.72 L1426.52,496.96 L1428.34,493.1 L1430.17,489.13 L1431.99,485.05 L1433.81,480.87 L1435.64,476.57 L1437.46,472.17 L1439.28,467.65 L1441.1,463.01 L1442.93,458.26 L1444.75,453.39 L1446.57,448.39 L1448.39,443.28 L1450.22,438.04 L1452.04,432.67 L1453.86,427.17 L1455.69,421.54 L1457.51,415.78 L1459.33,409.88 L1461.15,403.84 L1462.98,397.67 L1464.8,391.35 L1466.62,384.89 L1468.44,378.29 L1470.27,371.54 L1472.09,364.64 L1473.91,357.59 L1475.74,350.38 L1477.56,343.02 L1479.38,335.51 L1481.2,327.83 L1483.03,319.99 L1484.85,311.99 L1486.67,303.82 L1488.49,295.49 L1490.32,286.98 L1492.14,278.31 L1493.96,269.46 L1495.79,260.43 L1497.61,251.23 L1499.43,241.85 L1501.25,232.28 L1503.08,222.53 L1504.9,212.6 L1506.72,202.47 L1508.55,192.16 L1510.37,181.65 L1512.19,170.95 L1514.01,160.06 L1515.84,148.96 L1517.66,137.67 L1519.48,126.17 L1521.3,114.47 L1523.13,102.56 L1524.95,90.44 L1526.77,78.12 L1528.6,65.58 L1530.42,52.82 L1532.24,39.85 L1534.06,26.66 L1535.89,13.25 L1537.71,-0.38 L1539.53,-14.24 L1541.35,-28.32 L1543.18,-42.64 L1545,-57.18" fill="none" stroke="url(#konin)" stroke-width="4.6" clip-path="url(#magclip)"/></g>
<path d="M1498,607 L1498.68,604.52 L1499.6,601.31 L1500.69,597.49 L1501.89,593.2 L1503.16,588.57 L1504.42,583.74 L1505.62,578.84 L1506.7,574 L1507.68,569.06 L1508.63,563.81 L1509.55,558.34 L1510.46,552.74 L1511.35,547.1 L1512.23,541.51 L1513.11,536.04 L1514,530.8 L1514.89,525.8 L1515.76,520.96 L1516.63,516.23 L1517.49,511.56 L1518.36,506.88 L1519.23,502.15 L1520.11,497.31 L1521,492.3 L1521.91,487.08 L1522.83,481.7 L1523.75,476.2 L1524.69,470.64 L1525.62,465.09 L1526.55,459.59 L1527.48,454.21 L1528.4,449 L1529.31,444.03 L1530.21,439.28 L1531.11,434.67 L1532.01,430.1 L1532.91,425.5 L1533.8,420.77 L1534.7,415.83 L1535.6,410.6 L1536.52,404.99 L1537.46,399.03 L1538.41,392.85 L1539.35,386.56 L1540.28,380.26 L1541.17,374.08 L1542.01,368.12 L1542.8,362.5 L1543.52,357.13 L1544.2,351.86 L1544.84,346.72 L1545.44,341.74 L1546.01,336.95 L1546.55,332.38 L1547.08,328.05 L1547.6,324 L1548.09,320.41 L1548.53,317.34 L1548.95,314.62 L1549.35,312.06 L1549.74,309.5 L1550.14,306.75 L1550.56,303.64 L1551,300 L1551.46,295.92 L1551.92,291.6 L1552.39,287.04 L1552.87,282.24 L1553.36,277.19 L1553.88,271.88 L1554.42,266.32 L1555,260.5 L1555.62,254.24 L1556.27,247.48 L1556.95,240.37 L1557.66,233.05 L1558.37,225.67 L1559.09,218.39 L1559.8,211.35 L1560.5,204.7 L1561.18,198.46 L1561.86,192.49 L1562.54,186.71 L1563.22,181.05 L1563.9,175.43 L1564.59,169.76 L1565.29,163.98 L1566,158 L1566.73,151.9 L1567.46,145.77 L1568.21,139.61 L1568.97,133.36 L1569.73,127.01 L1570.49,120.52 L1571.25,113.86 L1572,107 L1572.77,99.73 L1573.58,91.98 L1574.4,83.95 L1575.22,75.84 L1576.01,67.85 L1576.75,60.16 L1577.42,52.98 L1578,46.5 L1578.5,40.54 L1578.93,34.83 L1579.3,29.45 L1579.62,24.47 L1579.9,19.96 L1580.13,16 L1580.33,12.65 L1580.5,10 L1592,10 L1592,607Z" fill="url(#flfill)"/>
<path d="M958,607 L961.19,606.99 L964.37,606.96 L967.56,606.9 L970.74,606.82 L973.93,606.71 L977.12,606.58 L980.3,606.42 L983.49,606.24 L986.67,606.03 L989.86,605.8 L993.05,605.54 L996.23,605.26 L999.42,604.95 L1002.6,604.62 L1005.79,604.27 L1008.97,603.89 L1012.16,603.48 L1015.35,603.05 L1018.53,602.6 L1021.72,602.12 L1024.9,601.61 L1028.09,601.08 L1031.28,600.53 L1034.46,599.95 L1037.65,599.35 L1040.83,598.72 L1044.02,598.07 L1047.21,597.39 L1050.39,596.69 L1053.58,595.96 L1056.76,595.21 L1059.95,594.43 L1063.14,593.63 L1066.32,592.8 L1069.51,591.95 L1072.69,591.07 L1075.88,590.17 L1079.07,589.24 L1082.25,588.29 L1085.44,587.32 L1088.62,586.32 L1091.81,585.29 L1094.99,584.24 L1098.18,583.17 L1101.37,582.07 L1104.55,580.94 L1107.74,579.79 L1110.92,578.62 L1114.11,577.42 L1117.3,576.2 L1120.48,574.95 L1123.67,573.68 L1126.85,572.38 L1130.04,571.06 L1133.23,569.71 L1136.41,568.34 L1139.6,566.94 L1142.78,565.52 L1145.97,564.07 L1149.16,562.6 L1152.34,561.1 L1155.53,559.58 L1158.71,558.03 L1161.9,556.46 L1165.09,554.87 L1168.27,553.25 L1171.46,551.6 L1174.64,549.93 L1177.83,548.24 L1181.02,546.52 L1184.2,544.77 L1187.39,543.01 L1190.57,541.21 L1193.76,539.39 L1196.94,537.55 L1200.13,535.68 L1203.32,533.79 L1206.5,531.87 L1209.69,529.93 L1212.87,527.96 L1216.06,525.97 L1219.25,523.95 L1222.43,521.91 L1225.62,519.84 L1228.8,517.75 L1231.99,515.63 L1235.18,513.49 L1238.36,511.33 L1241.55,509.14 L1244.73,506.92 L1247.92,504.68 L1251.11,502.42 L1254.29,500.13 L1257.48,497.81 L1260.66,495.47 L1263.85,493.11 L1267.04,490.72 L1270.22,488.3 L1273.41,485.87 L1276.59,483.4 L1279.78,480.91 L1282.96,478.4 L1286.15,475.86 L1289.34,473.3 L1292.52,470.71 L1295.71,468.1 L1298.89,465.46 L1302.08,462.8 L1305.27,460.12 L1308.45,457.4 L1311.64,454.67 L1314.82,451.91 L1318.01,449.12 L1321.2,446.31 L1324.38,443.47 L1327.57,440.61 L1330.75,437.73 L1333.94,434.82 L1337.13,431.89 L1340.31,428.93 L1343.5,425.94 L1346.68,422.93 L1349.87,419.9 L1353.06,416.84 L1356.24,413.76 L1359.43,410.65 L1362.61,407.52 L1365.8,404.36 L1368.98,401.18 L1372.17,397.97 L1375.36,394.74 L1378.54,391.48 L1381.73,388.2 L1384.91,384.89 L1388.1,381.56 L1391.29,378.2 L1394.47,374.82 L1397.66,371.42 L1400.84,367.99 L1404.03,364.53 L1407.22,361.05 L1410.4,357.55 L1413.59,354.02 L1416.77,350.46 L1419.96,346.88 L1423.15,343.28 L1426.33,339.65 L1429.52,336 L1432.7,332.32 L1435.89,328.61 L1439.08,324.89 L1442.26,321.13 L1445.45,317.35 L1448.63,313.55 L1451.82,309.72 L1455.01,305.87 L1458.19,302 L1461.38,298.09 L1464.56,294.17 L1467.75,290.22 L1470.93,286.24 L1474.12,282.24 L1477.31,278.21 L1480.49,274.16 L1483.68,270.09 L1486.86,265.99 L1490.05,261.86 L1493.24,257.71 L1496.42,253.54 L1499.61,249.34 L1502.79,245.12 L1505.98,240.87 L1509.17,236.59 L1512.35,232.29 L1515.54,227.97 L1518.72,223.62 L1521.91,219.25 L1525.1,214.85 L1528.28,210.43 L1531.47,205.98 L1534.65,201.51 L1537.84,197.01 L1541.03,192.49 L1544.21,187.95 L1547.4,183.37 L1550.58,178.78 L1553.77,174.16 L1556.95,169.51 L1560.14,164.84 L1563.33,160.15 L1566.51,155.43 L1569.7,150.68 L1572.88,145.91 L1576.07,141.12 L1579.26,136.3 L1582.44,131.45 L1585.63,126.59 L1588.81,121.69 L1592,116.77" fill="none" stroke="#0e4b7a" stroke-width="5"/>
<path d="M1569,151.72 L1571.56,147.9 L1574.11,144.07 L1576.67,140.22 L1579.22,136.35 L1581.78,132.47 L1584.33,128.57 L1586.89,124.65 L1589.44,120.72 L1592,116.77" fill="none" stroke="#9fb2cc" stroke-width="5.2"/>
<path d="M1296.94,466.4 L1298.39,465.77 L1300,465 L1301.83,464.05 L1303.9,462.93 L1306.17,461.67 L1308.59,460.3 L1311.12,458.85 L1313.73,457.35 L1316.36,455.82 L1318.98,454.3 L1321.54,452.82 L1324,451.4 L1326.4,450 L1328.8,448.57 L1331.2,447.11 L1333.6,445.64 L1336,444.18 L1338.4,442.74 L1340.8,441.34 L1343.2,439.99 L1345.6,438.71 L1348,437.5 L1350.42,436.35 L1352.88,435.24 L1355.35,434.16 L1357.83,433.13 L1360.29,432.14 L1362.74,431.22 L1365.15,430.35 L1367.5,429.56 L1369.79,428.84 L1372,428.2 L1374.1,427.63 L1376.08,427.12 L1377.98,426.66 L1379.83,426.27 L1381.64,425.95 L1383.46,425.71 L1385.31,425.54 L1387.21,425.47 L1389.2,425.49 L1391.3,425.6 L1393.54,425.81 L1395.89,426.1 L1398.33,426.47 L1400.83,426.94 L1403.36,427.48 L1405.88,428.11 L1408.38,428.83 L1410.82,429.63 L1413.17,430.52 L1415.4,431.5 L1417.54,432.59 L1419.63,433.79 L1421.67,435.11 L1423.66,436.51 L1425.61,437.99 L1427.5,439.54 L1429.35,441.12 L1431.15,442.74 L1432.9,444.37 L1434.6,446 L1436.23,447.62 L1437.79,449.25 L1439.27,450.89 L1440.7,452.56 L1442.09,454.28 L1443.46,456.06 L1444.82,457.9 L1446.19,459.83 L1447.58,461.86 L1449,464 L1450.46,466.24 L1451.93,468.58 L1453.42,470.99 L1454.91,473.49 L1456.4,476.06 L1457.88,478.71 L1459.33,481.43 L1460.76,484.22 L1462.15,487.08 L1463.5,490 L1464.81,493.01 L1466.1,496.14 L1467.36,499.35 L1468.6,502.65 L1469.81,506 L1471,509.39 L1472.16,512.81 L1473.3,516.22 L1474.41,519.63 L1475.5,523 L1476.56,526.38 L1477.6,529.8 L1478.6,533.25 L1479.59,536.72 L1480.54,540.19 L1481.48,543.64 L1482.39,547.06 L1483.28,550.44 L1484.15,553.76 L1485,557 L1485.83,560.21 L1486.63,563.42 L1487.4,566.61 L1488.16,569.77 L1488.89,572.88 L1489.6,575.91 L1490.3,578.86 L1490.98,581.7 L1491.64,584.42 L1492.3,587 L1492.96,589.5 L1493.63,591.96 L1494.31,594.37 L1494.97,596.68 L1495.61,598.88 L1496.21,600.92 L1496.76,602.78 L1497.25,604.44 L1497.67,605.86 L1498,607" fill="none" stroke="#1f78b4" stroke-width="3.2" stroke-dasharray="8,6"/>
<path d="M1498,607 L1498.68,604.52 L1499.6,601.31 L1500.69,597.49 L1501.89,593.2 L1503.16,588.57 L1504.42,583.74 L1505.62,578.84 L1506.7,574 L1507.68,569.06 L1508.63,563.81 L1509.55,558.34 L1510.46,552.74 L1511.35,547.1 L1512.23,541.51 L1513.11,536.04 L1514,530.8 L1514.89,525.8 L1515.76,520.96 L1516.63,516.23 L1517.49,511.56 L1518.36,506.88 L1519.23,502.15 L1520.11,497.31 L1521,492.3 L1521.91,487.08 L1522.83,481.7 L1523.75,476.2 L1524.69,470.64 L1525.62,465.09 L1526.55,459.59 L1527.48,454.21 L1528.4,449 L1529.31,444.03 L1530.21,439.28 L1531.11,434.67 L1532.01,430.1 L1532.91,425.5 L1533.8,420.77 L1534.7,415.83 L1535.6,410.6 L1536.52,404.99 L1537.46,399.03 L1538.41,392.85 L1539.35,386.56 L1540.28,380.26 L1541.17,374.08 L1542.01,368.12 L1542.8,362.5 L1543.52,357.13 L1544.2,351.86 L1544.84,346.72 L1545.44,341.74 L1546.01,336.95 L1546.55,332.38 L1547.08,328.05 L1547.6,324 L1548.09,320.41 L1548.53,317.34 L1548.95,314.62 L1549.35,312.06 L1549.74,309.5 L1550.14,306.75 L1550.56,303.64 L1551,300 L1551.46,295.92 L1551.92,291.6 L1552.39,287.04 L1552.87,282.24 L1553.36,277.19 L1553.88,271.88 L1554.42,266.32 L1555,260.5 L1555.62,254.24 L1556.27,247.48 L1556.95,240.37 L1557.66,233.05 L1558.37,225.67 L1559.09,218.39 L1559.8,211.35 L1560.5,204.7 L1561.18,198.46 L1561.86,192.49 L1562.54,186.71 L1563.22,181.05 L1563.9,175.43 L1564.59,169.76 L1565.29,163.98 L1566,158 L1566.73,151.9 L1567.46,145.77 L1568.21,139.61 L1568.97,133.36 L1569.73,127.01 L1570.49,120.52 L1571.25,113.86 L1572,107 L1572.77,99.73 L1573.58,91.98 L1574.4,83.95 L1575.22,75.84 L1576.01,67.85 L1576.75,60.16 L1577.42,52.98 L1578,46.5 L1578.5,40.54 L1578.93,34.83 L1579.3,29.45 L1579.62,24.47 L1579.9,19.96 L1580.13,16 L1580.33,12.65 L1580.5,10" fill="none" stroke="#d6101a" stroke-width="3.8" stroke-dasharray="9,7"/>
</g>
<path d="M1022.6,188 L1104.63,188 L1104.55,189.21 L1104.32,191.56 L1104.09,193.95 L1103.86,196.38 L1103.64,198.85 L1103.41,201.35 L1103.18,203.9 L1102.95,206.49 L1102.73,209.11 L1102.5,211.78 L1102.27,214.49 L1102.04,217.24 L1101.81,220.04 L1101.59,222.87 L1101.36,225.75 L1101.13,228.67 L1100.9,231.63 L1100.67,234.64 L1100.45,237.69 L1100.22,240.78 L1099.99,243.92 L1099.76,247.1 L1099.53,250.33 L1099.31,253.6 L1099.08,256.92 L1098.85,260.29 L1098.62,263.7 L1098.39,267.16 L1098.17,270.67 L1097.94,274.22 L1097.71,277.82 L1097.48,281.47 L1097.26,285.17 L1097.03,288.92 L1096.8,292.72 L1096.57,296.56 L1096.34,300.46 L1096.12,304.41 L1095.89,308.41 L1095.66,312.46 L1095.43,316.56 L1095.2,320.71 L1094.98,324.92 L1094.75,329.18 L1094.52,333.49 L1094.29,337.86 L1094.06,342.27 L1093.84,346.75 L1093.61,351.28 L1093.38,355.86 L1093.15,360.5 L1093.15,360.5 L1022.6,360.5Z" fill="#ebeefb"/>
<path d="M1104.78,186.9 L1105,184.62 L1105.23,182.39 L1105.46,180.19 L1105.69,178.02 L1105.92,175.9 L1106.14,173.81 L1106.37,171.75 L1106.6,169.74 L1107.22,164.43 L1107.84,159.37 L1108.46,154.57 L1109.08,150.02 L1109.7,145.7 L1110.32,141.61 L1110.94,137.76 L1111.56,134.13 L1112.18,130.71 L1112.8,127.5 L1113.42,124.5 L1114.04,121.7 L1114.66,119.1 L1115.28,116.69 L1115.9,114.46 L1116.52,112.41 L1117.14,110.54 L1117.76,108.83 L1118.38,107.3 L1119,105.92 L1119.62,104.7 L1120.24,103.62 L1120.86,102.7 L1121.48,101.92 L1122.1,101.27 L1122.72,100.76 L1123.34,100.37 L1123.96,100.11 L1124.58,99.96 L1125.2,99.94 L1125.82,100.02 L1126.44,100.21 L1127.06,100.5 L1127.68,100.89 L1128.3,101.38 L1128.92,101.96 L1129.54,102.62 L1130.16,103.37 L1130.78,104.2 L1131.4,105.1 L1132.02,106.08 L1132.64,107.12 L1133.26,108.23 L1133.88,109.4 L1134.5,110.63 L1135.12,111.92 L1135.74,113.25 L1136.36,114.64 L1136.98,116.07 L1137.6,117.55 L1138.22,119.06 L1138.84,120.61 L1139.46,122.2 L1140.08,123.81 L1140.7,125.46 L1141.32,127.13 L1141.94,128.82 L1142.56,130.54 L1143.18,132.27 L1143.8,134.02 L1144.42,135.78 L1145.04,137.55 L1145.66,139.33 L1146.28,141.12 L1146.9,142.91 L1147.52,144.71 L1148.14,146.5 L1148.76,148.3 L1149.38,150.09 L1150,151.87 L1150.62,153.65 L1151.24,155.41 L1151.86,157.17 L1152.48,158.92 L1153.1,160.65 L1153.72,162.37 L1154.34,164.07 L1154.96,165.75 L1155.58,167.41 L1156.2,169.06 L1156.82,170.68 L1157.44,172.27 L1158.06,173.85 L1158.68,175.4 L1159.29,176.92 L1159.91,178.42 L1160.53,179.89 L1161.15,181.33 L1161.77,182.74 L1162.39,184.12 L1163.01,185.46 L1163.63,186.78 L1164.25,188.07Z" fill="#e3f5fb"/>
<path d="M1164.87,189.32 L1165.49,190.54 L1166.11,191.73 L1166.73,192.88 L1167.35,194 L1167.97,195.08 L1168.59,196.13 L1169.21,197.14 L1169.83,198.12 L1170.45,199.06 L1171.07,199.96 L1171.69,200.83 L1172.31,201.67 L1172.93,202.47 L1173.55,203.23 L1174.17,203.95 L1174.79,204.64 L1175.41,205.3 L1176.03,205.92 L1176.65,206.5 L1177.27,207.05 L1177.89,207.57 L1178.51,208.05 L1179.13,208.49 L1179.75,208.9 L1180.37,209.28 L1180.99,209.63 L1181.61,209.94 L1182.23,210.22 L1182.85,210.47 L1183.47,210.68 L1184.09,210.87 L1184.71,211.02 L1185.33,211.15 L1185.95,211.24 L1186.57,211.31 L1187.19,211.35 L1187.81,211.36 L1188.43,211.34 L1189.05,211.3 L1189.67,211.23 L1190.29,211.14 L1190.91,211.02 L1191.53,210.88 L1192.15,210.72 L1192.77,210.53 L1193.39,210.32 L1194.01,210.09 L1194.63,209.84 L1195.25,209.57 L1195.87,209.29 L1196.49,208.98 L1197.11,208.66 L1197.73,208.31 L1198.35,207.96 L1198.97,207.59 L1199.59,207.2 L1200.21,206.8 L1200.83,206.39 L1201.45,205.96 L1202.07,205.52 L1202.69,205.08 L1203.31,204.62 L1203.93,204.15 L1204.55,203.67 L1205.17,203.19 L1205.79,202.7 L1206.41,202.2 L1207.03,201.69 L1207.65,201.18 L1208.27,200.67 L1208.89,200.15 L1209.51,199.63 L1210.13,199.1 L1210.75,198.57 L1211.37,198.04 L1211.99,197.52 L1212.61,196.99 L1213.23,196.46 L1213.85,195.93 L1214.47,195.4 L1215.09,194.88 L1215.71,194.35 L1216.33,193.83 L1216.95,193.32 L1217.57,192.81 L1218.19,192.3 L1218.81,191.8 L1219.43,191.3 L1220.05,190.81 L1220.67,190.32 L1221.29,189.85 L1221.91,189.37 L1222.53,188.91 L1223.15,188.46Z" fill="#ebeefb"/>
<line x1="1022.8" y1="362" x2="1022.8" y2="94" stroke="#000" stroke-width="2"/><path d="M1022.8,83 L1027.6,99 L1022.8,95.5 L1018,99Z" fill="#000"/>
<line x1="1022.6" y1="188.4" x2="1340" y2="188.4" stroke="#000" stroke-width="2.3"/><path d="M1353.5,188.4 L1337.5,183 L1341,188.4 L1337.5,193.8Z" fill="#000"/>
<path d="M1093.15,360.5 L1093.38,355.86 L1093.61,351.28 L1093.84,346.75 L1094.06,342.27 L1094.29,337.86 L1094.52,333.49 L1094.75,329.18 L1094.98,324.92 L1095.2,320.71 L1095.43,316.56 L1095.66,312.46 L1095.89,308.41 L1096.12,304.41 L1096.34,300.46 L1096.57,296.56 L1096.8,292.72 L1097.03,288.92 L1097.26,285.17 L1097.48,281.47 L1097.71,277.82 L1097.94,274.22 L1098.17,270.67 L1098.39,267.16 L1098.62,263.7 L1098.85,260.29 L1099.08,256.92 L1099.31,253.6 L1099.53,250.33 L1099.76,247.1 L1099.99,243.92 L1100.22,240.78 L1100.45,237.69 L1100.67,234.64 L1100.9,231.63 L1101.13,228.67 L1101.36,225.75 L1101.59,222.87 L1101.81,220.04 L1102.04,217.24 L1102.27,214.49 L1102.5,211.78 L1102.73,209.11 L1102.95,206.49 L1103.18,203.9 L1103.41,201.35 L1103.64,198.85 L1103.86,196.38 L1104.09,193.95 L1104.32,191.56 L1104.55,189.21 L1104.78,186.9 L1105,184.62 L1105.23,182.39 L1105.46,180.19 L1105.69,178.02 L1105.92,175.9 L1106.14,173.81 L1106.37,171.75 L1106.6,169.74 L1107.22,164.43 L1107.84,159.37 L1108.46,154.57 L1109.08,150.02 L1109.7,145.7 L1110.32,141.61 L1110.94,137.76 L1111.56,134.13 L1112.18,130.71 L1112.8,127.5 L1113.42,124.5 L1114.04,121.7 L1114.66,119.1 L1115.28,116.69 L1115.9,114.46 L1116.52,112.41 L1117.14,110.54 L1117.76,108.83 L1118.38,107.3 L1119,105.92 L1119.62,104.7 L1120.24,103.62 L1120.86,102.7 L1121.48,101.92 L1122.1,101.27 L1122.72,100.76 L1123.34,100.37 L1123.96,100.11 L1124.58,99.96 L1125.2,99.94 L1125.82,100.02 L1126.44,100.21 L1127.06,100.5 L1127.68,100.89 L1128.3,101.38 L1128.92,101.96 L1129.54,102.62 L1130.16,103.37 L1130.78,104.2 L1131.4,105.1 L1132.02,106.08 L1132.64,107.12 L1133.26,108.23 L1133.88,109.4 L1134.5,110.63 L1135.12,111.92 L1135.74,113.25 L1136.36,114.64 L1136.98,116.07 L1137.6,117.55 L1138.22,119.06 L1138.84,120.61 L1139.46,122.2 L1140.08,123.81 L1140.7,125.46 L1141.32,127.13 L1141.94,128.82 L1142.56,130.54 L1143.18,132.27 L1143.8,134.02 L1144.42,135.78 L1145.04,137.55 L1145.66,139.33 L1146.28,141.12 L1146.9,142.91 L1147.52,144.71 L1148.14,146.5 L1148.76,148.3 L1149.38,150.09 L1150,151.87 L1150.62,153.65 L1151.24,155.41 L1151.86,157.17 L1152.48,158.92 L1153.1,160.65 L1153.72,162.37 L1154.34,164.07 L1154.96,165.75 L1155.58,167.41 L1156.2,169.06 L1156.82,170.68 L1157.44,172.27 L1158.06,173.85 L1158.68,175.4 L1159.29,176.92 L1159.91,178.42 L1160.53,179.89 L1161.15,181.33 L1161.77,182.74 L1162.39,184.12 L1163.01,185.46 L1163.63,186.78 L1164.25,188.07 L1164.87,189.32 L1165.49,190.54 L1166.11,191.73 L1166.73,192.88 L1167.35,194 L1167.97,195.08 L1168.59,196.13 L1169.21,197.14 L1169.83,198.12 L1170.45,199.06 L1171.07,199.96 L1171.69,200.83 L1172.31,201.67 L1172.93,202.47 L1173.55,203.23 L1174.17,203.95 L1174.79,204.64 L1175.41,205.3 L1176.03,205.92 L1176.65,206.5 L1177.27,207.05 L1177.89,207.57 L1178.51,208.05 L1179.13,208.49 L1179.75,208.9 L1180.37,209.28 L1180.99,209.63 L1181.61,209.94 L1182.23,210.22 L1182.85,210.47 L1183.47,210.68 L1184.09,210.87 L1184.71,211.02 L1185.33,211.15 L1185.95,211.24 L1186.57,211.31 L1187.19,211.35 L1187.81,211.36 L1188.43,211.34 L1189.05,211.3 L1189.67,211.23 L1190.29,211.14 L1190.91,211.02 L1191.53,210.88 L1192.15,210.72 L1192.77,210.53 L1193.39,210.32 L1194.01,210.09 L1194.63,209.84 L1195.25,209.57 L1195.87,209.29 L1196.49,208.98 L1197.11,208.66 L1197.73,208.31 L1198.35,207.96 L1198.97,207.59 L1199.59,207.2 L1200.21,206.8 L1200.83,206.39 L1201.45,205.96 L1202.07,205.52 L1202.69,205.08 L1203.31,204.62 L1203.93,204.15 L1204.55,203.67 L1205.17,203.19 L1205.79,202.7 L1206.41,202.2 L1207.03,201.69 L1207.65,201.18 L1208.27,200.67 L1208.89,200.15 L1209.51,199.63 L1210.13,199.1 L1210.75,198.57 L1211.37,198.04 L1211.99,197.52 L1212.61,196.99 L1213.23,196.46 L1213.85,195.93 L1214.47,195.4 L1215.09,194.88 L1215.71,194.35 L1216.33,193.83 L1216.95,193.32 L1217.57,192.81 L1218.19,192.3 L1218.81,191.8 L1219.43,191.3 L1220.05,190.81 L1220.67,190.32 L1221.29,189.85 L1221.91,189.37 L1222.53,188.91 L1223.15,188.46 L1223.77,188.01 L1224.39,187.57 L1225.01,187.14 L1225.63,186.72 L1226.25,186.31 L1226.87,185.91 L1227.49,185.52 L1228.11,185.14 L1228.73,184.77 L1229.35,184.41 L1229.97,184.06 L1230.59,183.72 L1231.21,183.4 L1231.83,183.08 L1232.45,182.78 L1233.07,182.49 L1233.69,182.21 L1234.31,181.94 L1234.93,181.69 L1235.55,181.44 L1236.17,181.21 L1236.79,180.99 L1237.41,180.79 L1238.03,180.59 L1238.65,180.41 L1239.27,180.24 L1239.89,180.08 L1240.51,179.94 L1241.13,179.81 L1241.75,179.68 L1242.37,179.58 L1242.99,179.48 L1243.61,179.39 L1244.23,179.32 L1244.85,179.26 L1245.47,179.21 L1246.09,179.17 L1246.71,179.14 L1247.33,179.12 L1247.95,179.12 L1248.57,179.12 L1249.19,179.14 L1249.81,179.16 L1250.43,179.2 L1251.05,179.24 L1251.67,179.3 L1252.29,179.36 L1252.91,179.44 L1253.53,179.52 L1254.15,179.61 L1254.77,179.71 L1255.39,179.82 L1256.01,179.94 L1256.63,180.06 L1257.25,180.2 L1257.87,180.34 L1258.49,180.48 L1259.11,180.64 L1259.73,180.8 L1260.35,180.96 L1260.97,181.13 L1261.59,181.31 L1262.21,181.49 L1262.83,181.68 L1263.45,181.88 L1264.07,182.07 L1264.68,182.27 L1265.3,182.48 L1265.92,182.69 L1266.54,182.9 L1267.16,183.12 L1267.78,183.34 L1268.4,183.56 L1269.02,183.78 L1269.64,184 L1270.26,184.23 L1270.88,184.46 L1271.5,184.69 L1272.12,184.92 L1272.74,185.15 L1273.36,185.38 L1273.98,185.61 L1274.6,185.84 L1275.22,186.07 L1275.84,186.3 L1276.46,186.53 L1277.08,186.76 L1277.7,186.98 L1278.32,187.21 L1278.94,187.43 L1279.56,187.65 L1280.18,187.87 L1280.8,188.08 L1281.42,188.3 L1282.04,188.51 L1282.66,188.71 L1283.28,188.92 L1283.9,189.12 L1284.52,189.31 L1285.14,189.51 L1285.76,189.7 L1286.38,189.88 L1287,190.06 L1287.62,190.24 L1288.24,190.41 L1288.86,190.58 L1289.48,190.74 L1290.1,190.89 L1290.72,191.05 L1291.34,191.19 L1291.96,191.34 L1292.58,191.47 L1293.2,191.6 L1293.82,191.73 L1294.44,191.85 L1295.06,191.96 L1295.68,192.07 L1296.3,192.18 L1296.92,192.28 L1297.54,192.37 L1298.16,192.45 L1298.78,192.53 L1299.4,192.61 L1300.02,192.68 L1300.64,192.74 L1301.26,192.8 L1301.88,192.85 L1302.5,192.9 L1303.12,192.94 L1303.74,192.97 L1304.36,193 L1304.98,193.02 L1305.6,193.04 L1306.22,193.06 L1306.84,193.06 L1307.46,193.06 L1308.08,193.06 L1308.7,193.05 L1309.32,193.04 L1309.94,193.02 L1310.56,192.99 L1311.18,192.96 L1311.8,192.93 L1312.42,192.89 L1313.04,192.85 L1313.66,192.8 L1314.28,192.75 L1314.9,192.69 L1315.52,192.63 L1316.14,192.57 L1316.76,192.5" fill="none" stroke="#0e4b7a" stroke-width="5.2" stroke-linejoin="round"/>
<circle cx="1316.76" cy="192.5" r="2.6" fill="#0e4b7a"/>
<path d="M1104.63,184.4 v8 M1164.42,184.4 v8 M1223.22,184.4 v8 M1281.72,184.4 v8" stroke="#000" stroke-width="2"/>
<text x="1015.5" y="197.5" font-size="26" text-anchor="end">0</text>
<text x="1108.5" y="210.5" font-size="22.8">2.25</text>
<text x="1165" y="183" font-size="22.8">3.86</text>
<text x="1218" y="213" font-size="22.8">5.45</text>
<text x="1278.5" y="183" font-size="22.8">7.03</text>
<text x="1030.5" y="106.5" font-size="32" font-style="italic">J<tspan font-size="19.5" dy="6.5" dx="0.5" font-style="normal">R</tspan></text>
<text x="1334" y="222" font-size="29" font-style="italic">k<tspan font-size="20" dy="7">F</tspan><tspan dy="-7">r</tspan></text>
<text x="1200" y="271.5" font-size="27.5" font-weight="bold" text-anchor="middle">RKKY</text>
<text x="1200.8" y="305.5" font-size="28.8" font-weight="bold" text-anchor="middle">interaction</text>
<path d="M958.5,608 V10.7 H1591.7 V608" fill="none" stroke="#111" stroke-width="2"/>
<path d="M1498,607 H1591.7" fill="none" stroke="#111" stroke-width="2"/>
<text x="962" y="40" font-size="35.5" font-weight="bold">(e)</text>
<g font-weight="bold" fill="#c8101a"><text x="1234" y="50.6" font-size="28.5" font-style="italic" fill="#c8101a">T</text><text x="1250" y="58" font-size="20.3" fill="#c8101a">Kondo</text><text x="1319" y="50" font-size="28" font-weight="normal" fill="#c8101a">~</text><text x="1346.5" y="50.6" font-size="27.5" fill="#c8101a">exp</text><text x="1398" y="50.6" font-size="27.5" fill="#c8101a">[-1<tspan font-weight="normal" dx="1">/</tspan></text><text x="1441.5" y="50.6" font-size="25" font-weight="normal" font-style="italic" font-family="'DejaVu Sans',sans-serif" fill="#c8101a">ρ</text><text x="1458" y="50.6" font-size="27.5" font-style="italic" fill="#c8101a">J</text><text x="1474" y="58" font-size="20.3" font-style="italic" fill="#c8101a">K</text><text x="1489" y="50.6" font-size="27.5" fill="#c8101a">]</text></g>
<text transform="translate(940.6,312.6) rotate(-90)" font-size="34.9" text-anchor="middle">Temperature</text>
<text x="1268.5" y="650" font-size="35.5" font-style="italic">J<tspan font-size="26" dy="10">K</tspan></text>
<text x="1318.5" y="537" font-size="26.5" font-weight="bold" fill="#0e4b7a" text-anchor="middle">Magnetic</text>
<text x="1323.5" y="573.5" font-size="26.5" font-weight="bold" fill="#0e4b7a" text-anchor="middle">Order</text>
<text x="1056" y="468.7" font-size="28" font-weight="bold" fill="#1e9df2">EuCo<tspan font-size="22" dy="8" dx="4.5">2</tspan><tspan dy="-8">Al</tspan><tspan font-size="22" dy="8" dx="1">9</tspan></text>
<line x1="1121.3" y1="486" x2="1121.3" y2="538" stroke="#1e9df2" stroke-width="4"/><path d="M1113.8,534 L1128.8,534 L1121.3,567Z" fill="#1e9df2"/>
<text transform="translate(1571.8,579.5) rotate(-90)" font-size="27.5" font-weight="bold" fill="#9e151b" stroke="#9e151b" stroke-width="0.4">Fermi Liquid</text>
<text transform="translate(1317,417.5) rotate(-45.5)" font-size="29" font-weight="bold" fill="#0e4b7a"><tspan font-style="italic">T</tspan><tspan font-size="20" dy="4">RKKY</tspan><tspan dy="-4" font-weight="normal" font-size="27" font-family="'Liberation Serif',serif"> ~ </tspan><tspan font-style="italic" font-weight="normal" font-family="'DejaVu Sans',sans-serif" font-size="26">ρ</tspan><tspan font-style="italic" font-size="30">J</tspan><tspan font-size="20" dy="-14" dx="2">2</tspan><tspan font-size="20" font-style="italic" dy="20" dx="-8">K</tspan></text></g>
</svg>
</body></html>
